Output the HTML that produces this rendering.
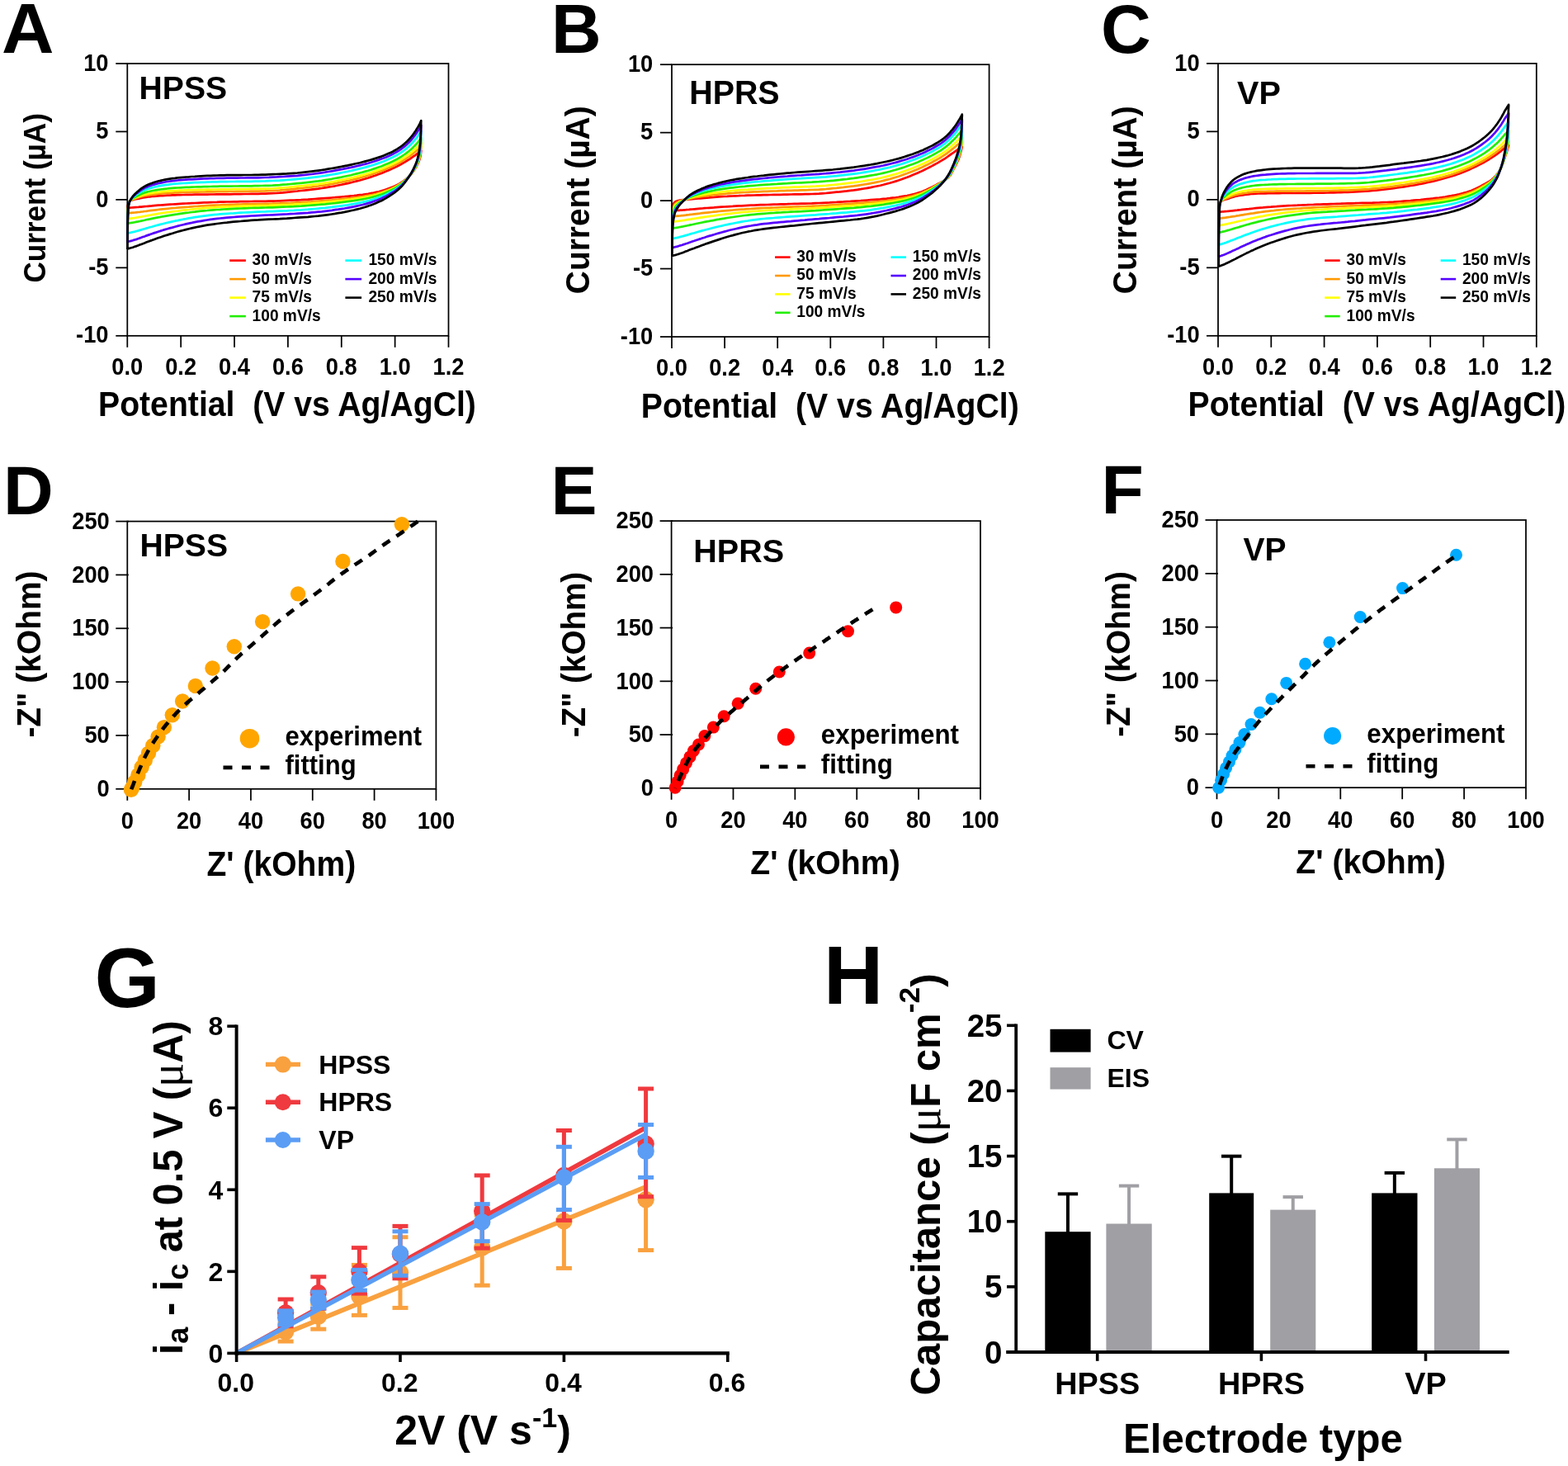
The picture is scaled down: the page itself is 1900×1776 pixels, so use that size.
<!DOCTYPE html>
<html lang="en">
<head>
<meta charset="utf-8">
<title>Electrochemical characterisation of HPSS, HPRS and VP electrodes</title>
<style>html,body{margin:0;padding:0;background:#fff}body{width:1900px;height:1776px;overflow:hidden}svg{display:block}text{white-space:pre}</style>
</head>
<body>
<svg width="1900" height="1776" viewBox="0 0 1900 1776" font-family='"Liberation Sans", sans-serif' font-weight="bold" fill="#000" aria-labelledby="fig-title fig-desc">
<title id="fig-title">Electrochemical characterisation of HPSS, HPRS and VP electrodes</title>
<desc id="fig-desc">Panels A to C: cyclic voltammograms at scan rates from 30 to 250 mV/s. Panels D to F: Nyquist plots with experiment and fitting. Panel G: current difference at 0.5 V versus scan rate. Panel H: capacitance by electrode type from CV and EIS.</desc>
<rect width="1900" height="1776" fill="#fff"/>
<g id="panel-A">
<path d="M154.4 251.8 L154.4 251.6 L154.5 251.3 L154.6 250.2 L154.9 248.5 L155.3 247.1 L155.7 245.8 L156.3 244.7 L157.0 243.9 L157.8 243.4 L158.7 242.9 L159.7 242.4 L160.8 242.1 L162.0 241.7 L163.3 241.5 L164.7 241.2 L166.2 241.0 L167.8 240.6 L169.4 240.3 L171.2 239.9 L173.1 239.5 L175.1 239.1 L177.2 238.8 L179.3 238.5 L181.6 238.3 L184.0 238.0 L186.4 237.8 L188.9 237.6 L191.5 237.4 L194.2 237.2 L197.0 237.1 L199.8 236.9 L202.8 236.7 L205.8 236.6 L208.9 236.4 L212.0 236.3 L215.2 236.2 L218.5 236.1 L221.9 236.0 L225.3 235.9 L228.8 235.8 L232.4 235.8 L236.0 235.7 L239.7 235.7 L243.4 235.6 L247.2 235.6 L251.0 235.6 L254.9 235.5 L258.8 235.5 L262.8 235.4 L266.8 235.4 L270.8 235.4 L274.9 235.3 L279.0 235.3 L283.2 235.2 L287.3 235.2 L291.6 235.1 L295.8 235.0 L300.0 235.0 L304.3 234.9 L308.6 234.9 L312.9 234.8 L317.2 234.7 L321.5 234.6 L325.9 234.4 L330.2 234.2 L334.5 234.0 L338.9 233.7 L343.2 233.3 L347.5 232.8 L351.8 232.4 L356.1 231.9 L360.4 231.5 L364.7 231.0 L368.9 230.6 L373.2 230.1 L377.4 229.6 L381.5 229.1 L385.7 228.6 L389.8 228.0 L393.9 227.3 L397.9 226.7 L402.0 226.0 L405.9 225.3 L409.8 224.5 L413.7 223.7 L417.5 222.9 L421.3 222.1 L425.1 221.2 L428.7 220.3 L432.3 219.4 L435.9 218.5 L439.4 217.5 L442.8 216.5 L446.2 215.5 L449.5 214.4 L452.7 213.3 L455.9 212.2 L458.9 211.1 L462.0 210.0 L464.9 208.8 L467.7 207.6 L470.5 206.4 L473.2 205.2 L475.8 204.0 L478.3 202.9 L480.8 201.7 L483.1 200.5 L485.4 199.3 L487.5 198.0 L489.6 196.8 L491.6 195.7 L493.5 194.5 L495.3 193.4 L497.0 192.3 L498.6 191.2 L500.1 190.2 L501.5 189.2 L502.8 188.3 L504.0 187.4 L505.0 186.6 L506.0 185.9 L506.9 185.2 L507.7 184.6 L508.4 184.1 L509.0 183.7 L509.5 183.3 L509.8 183.0 L510.1 182.8 L510.2 182.7 L510.3 182.6 L510.3 182.6 L510.2 183.1 L510.1 184.5 L509.8 186.7 L509.5 188.9 L509.0 191.0 L508.4 193.1 L507.7 195.1 L506.9 196.9 L506.0 198.8 L505.0 200.8 L504.0 202.8 L502.8 204.8 L501.5 206.7 L500.1 208.6 L498.6 210.5 L497.0 212.3 L495.3 214.0 L493.5 215.7 L491.6 217.3 L489.6 218.9 L487.5 220.3 L485.4 221.7 L483.1 223.1 L480.8 224.3 L478.3 225.5 L475.8 226.6 L473.2 227.6 L470.5 228.6 L467.7 229.6 L464.9 230.5 L462.0 231.4 L458.9 232.2 L455.9 232.9 L452.7 233.6 L449.5 234.2 L446.2 234.8 L442.8 235.3 L439.4 235.8 L435.9 236.2 L432.3 236.7 L428.7 237.1 L425.1 237.4 L421.3 237.8 L417.5 238.2 L413.7 238.5 L409.8 238.8 L405.9 239.2 L402.0 239.5 L397.9 239.8 L393.9 240.1 L389.8 240.4 L385.7 240.7 L381.5 241.0 L377.4 241.3 L373.2 241.6 L368.9 241.8 L364.7 242.1 L360.4 242.3 L356.1 242.5 L351.8 242.7 L347.5 242.9 L343.2 243.1 L338.9 243.3 L334.5 243.5 L330.2 243.6 L325.9 243.7 L321.5 243.8 L317.2 243.8 L312.9 243.9 L308.6 243.9 L304.3 244.0 L300.0 244.1 L295.8 244.1 L291.6 244.2 L287.3 244.3 L283.2 244.4 L279.0 244.5 L274.9 244.5 L270.8 244.6 L266.8 244.7 L262.8 244.9 L258.8 245.0 L254.9 245.1 L251.0 245.3 L247.2 245.4 L243.4 245.6 L239.7 245.8 L236.0 246.0 L232.4 246.1 L228.8 246.3 L225.3 246.5 L221.9 246.7 L218.5 246.9 L215.2 247.1 L212.0 247.3 L208.9 247.5 L205.8 247.7 L202.8 247.9 L199.8 248.1 L197.0 248.3 L194.2 248.5 L191.5 248.7 L188.9 248.9 L186.4 249.1 L184.0 249.4 L181.6 249.6 L179.3 249.8 L177.2 250.0 L175.1 250.2 L173.1 250.4 L171.2 250.6 L169.4 250.7 L167.8 250.9 L166.2 251.0 L164.7 251.1 L163.3 251.2 L162.0 251.3 L160.8 251.4 L159.7 251.5 L158.7 251.5 L157.8 251.6 L157.0 251.6 L156.3 251.7 L155.7 251.7 L155.3 251.7 L154.9 251.7 L154.6 251.8 L154.5 251.8 L154.4 251.8 L154.4 251.8" fill="none" stroke="#ff0000" stroke-width="2.7" stroke-linejoin="round"/>
<path d="M154.4 258.7 L154.4 258.7 L154.5 257.6 L154.6 254.4 L154.9 250.9 L155.3 248.3 L155.7 246.5 L156.3 245.0 L157.0 244.0 L157.8 243.3 L158.7 242.6 L159.7 242.0 L160.8 241.5 L162.0 241.0 L163.3 240.6 L164.7 240.2 L166.2 239.8 L167.8 239.3 L169.4 238.8 L171.2 238.3 L173.1 237.7 L175.1 237.2 L177.2 236.8 L179.3 236.4 L181.6 236.1 L184.0 235.8 L186.4 235.5 L188.9 235.2 L191.5 234.9 L194.2 234.7 L197.0 234.4 L199.8 234.2 L202.8 234.0 L205.8 233.8 L208.9 233.6 L212.0 233.4 L215.2 233.3 L218.5 233.1 L221.9 233.0 L225.3 232.9 L228.8 232.8 L232.4 232.7 L236.0 232.6 L239.7 232.6 L243.4 232.5 L247.2 232.5 L251.0 232.4 L254.9 232.3 L258.8 232.3 L262.8 232.2 L266.8 232.2 L270.8 232.1 L274.9 232.1 L279.0 232.0 L283.2 232.0 L287.3 231.9 L291.6 231.9 L295.8 231.8 L300.0 231.8 L304.3 231.7 L308.6 231.6 L312.9 231.6 L317.2 231.5 L321.5 231.4 L325.9 231.2 L330.2 231.0 L334.5 230.8 L338.9 230.5 L343.2 230.1 L347.5 229.7 L351.8 229.3 L356.1 228.8 L360.4 228.4 L364.7 228.0 L368.9 227.5 L373.2 227.1 L377.4 226.6 L381.5 226.0 L385.7 225.5 L389.8 224.9 L393.9 224.3 L397.9 223.6 L402.0 222.9 L405.9 222.2 L409.8 221.4 L413.7 220.7 L417.5 219.9 L421.3 219.1 L425.1 218.2 L428.7 217.3 L432.3 216.4 L435.9 215.5 L439.4 214.5 L442.8 213.6 L446.2 212.5 L449.5 211.5 L452.7 210.4 L455.9 209.3 L458.9 208.2 L462.0 207.1 L464.9 205.9 L467.7 204.8 L470.5 203.6 L473.2 202.4 L475.8 201.2 L478.3 200.0 L480.8 198.8 L483.1 197.5 L485.4 196.3 L487.5 195.0 L489.6 193.7 L491.6 192.5 L493.5 191.2 L495.3 190.0 L497.0 188.8 L498.6 187.6 L500.1 186.4 L501.5 185.3 L502.8 184.3 L504.0 183.3 L505.0 182.4 L506.0 181.5 L506.9 180.7 L507.7 180.0 L508.4 179.4 L509.0 178.8 L509.5 178.4 L509.8 178.0 L510.1 177.7 L510.2 177.6 L510.3 177.5 L510.3 177.5 L510.2 178.2 L510.1 180.1 L509.8 183.2 L509.5 186.1 L509.0 188.6 L508.4 191.2 L507.7 193.5 L506.9 195.7 L506.0 197.8 L505.0 200.0 L504.0 202.1 L502.8 204.2 L501.5 206.3 L500.1 208.3 L498.6 210.3 L497.0 212.2 L495.3 214.1 L493.5 215.9 L491.6 217.7 L489.6 219.4 L487.5 221.0 L485.4 222.5 L483.1 223.9 L480.8 225.3 L478.3 226.6 L475.8 227.8 L473.2 228.9 L470.5 230.0 L467.7 231.1 L464.9 232.1 L462.0 233.0 L458.9 233.9 L455.9 234.8 L452.7 235.5 L449.5 236.2 L446.2 236.8 L442.8 237.4 L439.4 238.0 L435.9 238.5 L432.3 239.0 L428.7 239.5 L425.1 240.0 L421.3 240.4 L417.5 240.8 L413.7 241.2 L409.8 241.6 L405.9 241.9 L402.0 242.3 L397.9 242.6 L393.9 243.0 L389.8 243.3 L385.7 243.6 L381.5 243.9 L377.4 244.3 L373.2 244.5 L368.9 244.8 L364.7 245.1 L360.4 245.3 L356.1 245.5 L351.8 245.8 L347.5 246.0 L343.2 246.2 L338.9 246.4 L334.5 246.5 L330.2 246.7 L325.9 246.8 L321.5 246.9 L317.2 247.0 L312.9 247.0 L308.6 247.1 L304.3 247.2 L300.0 247.3 L295.8 247.4 L291.6 247.5 L287.3 247.6 L283.2 247.8 L279.0 247.9 L274.9 248.1 L270.8 248.2 L266.8 248.4 L262.8 248.5 L258.8 248.7 L254.9 248.9 L251.0 249.1 L247.2 249.3 L243.4 249.5 L239.7 249.8 L236.0 250.0 L232.4 250.3 L228.8 250.6 L225.3 250.8 L221.9 251.1 L218.5 251.4 L215.2 251.7 L212.0 252.0 L208.9 252.2 L205.8 252.5 L202.8 252.8 L199.8 253.1 L197.0 253.4 L194.2 253.7 L191.5 254.0 L188.9 254.3 L186.4 254.6 L184.0 254.9 L181.6 255.2 L179.3 255.5 L177.2 255.8 L175.1 256.0 L173.1 256.3 L171.2 256.5 L169.4 256.8 L167.8 257.0 L166.2 257.1 L164.7 257.3 L163.3 257.5 L162.0 257.6 L160.8 257.7 L159.7 257.8 L158.7 257.9 L157.8 258.0 L157.0 258.0 L156.3 258.1 L155.7 258.1 L155.3 258.2 L154.9 258.2 L154.6 258.2 L154.5 258.2 L154.4 258.2 L154.4 258.7" fill="none" stroke="#ff9900" stroke-width="2.7" stroke-linejoin="round"/>
<path d="M154.4 265.2 L154.4 264.7 L154.5 263.0 L154.6 258.1 L154.9 252.9 L155.3 249.4 L155.7 247.0 L156.3 245.3 L157.0 244.1 L157.8 243.2 L158.7 242.5 L159.7 241.7 L160.8 241.0 L162.0 240.4 L163.3 239.9 L164.7 239.3 L166.2 238.8 L167.8 238.2 L169.4 237.5 L171.2 236.9 L173.1 236.3 L175.1 235.7 L177.2 235.1 L179.3 234.7 L181.6 234.2 L184.0 233.8 L186.4 233.5 L188.9 233.1 L191.5 232.8 L194.2 232.5 L197.0 232.2 L199.8 231.9 L202.8 231.6 L205.8 231.4 L208.9 231.2 L212.0 231.0 L215.2 230.8 L218.5 230.6 L221.9 230.5 L225.3 230.3 L228.8 230.2 L232.4 230.1 L236.0 230.0 L239.7 229.9 L243.4 229.8 L247.2 229.8 L251.0 229.7 L254.9 229.6 L258.8 229.5 L262.8 229.5 L266.8 229.4 L270.8 229.4 L274.9 229.3 L279.0 229.3 L283.2 229.2 L287.3 229.2 L291.6 229.1 L295.8 229.1 L300.0 229.0 L304.3 228.9 L308.6 228.9 L312.9 228.8 L317.2 228.7 L321.5 228.6 L325.9 228.5 L330.2 228.3 L334.5 228.0 L338.9 227.7 L343.2 227.4 L347.5 227.0 L351.8 226.6 L356.1 226.2 L360.4 225.7 L364.7 225.3 L368.9 224.9 L373.2 224.4 L377.4 223.9 L381.5 223.4 L385.7 222.9 L389.8 222.3 L393.9 221.6 L397.9 221.0 L402.0 220.3 L405.9 219.6 L409.8 218.8 L413.7 218.0 L417.5 217.3 L421.3 216.4 L425.1 215.6 L428.7 214.7 L432.3 213.9 L435.9 212.9 L439.4 212.0 L442.8 211.0 L446.2 210.0 L449.5 209.0 L452.7 208.0 L455.9 206.9 L458.9 205.8 L462.0 204.7 L464.9 203.5 L467.7 202.3 L470.5 201.1 L473.2 199.9 L475.8 198.7 L478.3 197.5 L480.8 196.3 L483.1 195.0 L485.4 193.7 L487.5 192.4 L489.6 191.0 L491.6 189.7 L493.5 188.4 L495.3 187.1 L497.0 185.8 L498.6 184.5 L500.1 183.2 L501.5 182.0 L502.8 180.9 L504.0 179.8 L505.0 178.7 L506.0 177.8 L506.9 176.9 L507.7 176.1 L508.4 175.3 L509.0 174.7 L509.5 174.1 L509.8 173.7 L510.1 173.4 L510.2 173.2 L510.3 173.2 L510.3 173.2 L510.2 174.8 L510.1 177.1 L509.8 180.7 L509.5 184.1 L509.0 187.0 L508.4 189.9 L507.7 192.5 L506.9 194.9 L506.0 197.2 L505.0 199.5 L504.0 201.7 L502.8 203.8 L501.5 206.0 L500.1 208.1 L498.6 210.2 L497.0 212.2 L495.3 214.1 L493.5 216.1 L491.6 217.9 L489.6 219.7 L487.5 221.4 L485.4 223.0 L483.1 224.5 L480.8 225.9 L478.3 227.3 L475.8 228.5 L473.2 229.7 L470.5 230.9 L467.7 232.0 L464.9 233.1 L462.0 234.2 L458.9 235.1 L455.9 236.0 L452.7 236.8 L449.5 237.5 L446.2 238.2 L442.8 238.9 L439.4 239.5 L435.9 240.1 L432.3 240.6 L428.7 241.2 L425.1 241.7 L421.3 242.1 L417.5 242.6 L413.7 243.0 L409.8 243.4 L405.9 243.8 L402.0 244.2 L397.9 244.5 L393.9 244.9 L389.8 245.3 L385.7 245.6 L381.5 245.9 L377.4 246.3 L373.2 246.6 L368.9 246.8 L364.7 247.1 L360.4 247.3 L356.1 247.6 L351.8 247.8 L347.5 248.0 L343.2 248.2 L338.9 248.4 L334.5 248.6 L330.2 248.7 L325.9 248.9 L321.5 249.0 L317.2 249.1 L312.9 249.2 L308.6 249.3 L304.3 249.4 L300.0 249.5 L295.8 249.6 L291.6 249.8 L287.3 249.9 L283.2 250.1 L279.0 250.3 L274.9 250.4 L270.8 250.6 L266.8 250.8 L262.8 251.0 L258.8 251.3 L254.9 251.5 L251.0 251.8 L247.2 252.2 L243.4 252.5 L239.7 252.8 L236.0 253.2 L232.4 253.6 L228.8 254.0 L225.3 254.3 L221.9 254.7 L218.5 255.1 L215.2 255.6 L212.0 256.0 L208.9 256.4 L205.8 256.8 L202.8 257.2 L199.8 257.7 L197.0 258.1 L194.2 258.5 L191.5 258.9 L188.9 259.4 L186.4 259.8 L184.0 260.2 L181.6 260.7 L179.3 261.1 L177.2 261.5 L175.1 261.9 L173.1 262.2 L171.2 262.6 L169.4 262.9 L167.8 263.2 L166.2 263.5 L164.7 263.7 L163.3 264.0 L162.0 264.2 L160.8 264.3 L159.7 264.5 L158.7 264.6 L157.8 264.8 L157.0 264.9 L156.3 264.9 L155.7 265.0 L155.3 265.1 L154.9 265.1 L154.6 265.1 L154.5 265.2 L154.4 265.2 L154.4 265.2" fill="none" stroke="#ffff00" stroke-width="2.7" stroke-linejoin="round"/>
<path d="M154.4 272.7 L154.4 272.7 L154.5 270.3 L154.6 262.9 L154.9 255.6 L155.3 250.9 L155.7 247.8 L156.3 245.6 L157.0 244.2 L157.8 243.1 L158.7 242.2 L159.7 241.3 L160.8 240.4 L162.0 239.6 L163.3 238.9 L164.7 238.2 L166.2 237.4 L167.8 236.7 L169.4 235.9 L171.2 235.1 L173.1 234.3 L175.1 233.6 L177.2 232.9 L179.3 232.3 L181.6 231.8 L184.0 231.3 L186.4 230.8 L188.9 230.3 L191.5 229.9 L194.2 229.5 L197.0 229.2 L199.8 228.8 L202.8 228.5 L205.8 228.2 L208.9 227.9 L212.0 227.7 L215.2 227.5 L218.5 227.3 L221.9 227.1 L225.3 226.9 L228.8 226.8 L232.4 226.6 L236.0 226.5 L239.7 226.4 L243.4 226.3 L247.2 226.2 L251.0 226.1 L254.9 226.0 L258.8 225.9 L262.8 225.8 L266.8 225.7 L270.8 225.7 L274.9 225.6 L279.0 225.6 L283.2 225.5 L287.3 225.5 L291.6 225.4 L295.8 225.4 L300.0 225.3 L304.3 225.3 L308.6 225.2 L312.9 225.1 L317.2 225.0 L321.5 224.9 L325.9 224.8 L330.2 224.6 L334.5 224.3 L338.9 224.1 L343.2 223.7 L347.5 223.4 L351.8 223.0 L356.1 222.6 L360.4 222.2 L364.7 221.8 L368.9 221.4 L373.2 220.9 L377.4 220.4 L381.5 219.9 L385.7 219.4 L389.8 218.8 L393.9 218.1 L397.9 217.5 L402.0 216.8 L405.9 216.0 L409.8 215.3 L413.7 214.6 L417.5 213.8 L421.3 213.0 L425.1 212.2 L428.7 211.3 L432.3 210.4 L435.9 209.5 L439.4 208.6 L442.8 207.6 L446.2 206.7 L449.5 205.7 L452.7 204.6 L455.9 203.6 L458.9 202.5 L462.0 201.4 L464.9 200.2 L467.7 199.1 L470.5 197.9 L473.2 196.7 L475.8 195.5 L478.3 194.2 L480.8 193.0 L483.1 191.6 L485.4 190.3 L487.5 188.9 L489.6 187.5 L491.6 186.1 L493.5 184.6 L495.3 183.2 L497.0 181.8 L498.6 180.4 L500.1 179.0 L501.5 177.6 L502.8 176.3 L504.0 175.0 L505.0 173.9 L506.0 172.8 L506.9 171.7 L507.7 170.8 L508.4 169.9 L509.0 169.1 L509.5 168.5 L509.8 168.0 L510.1 167.6 L510.2 167.4 L510.3 167.3 L510.3 167.3 L510.2 170.8 L510.1 173.5 L509.8 177.8 L509.5 181.7 L509.0 185.1 L508.4 188.3 L507.7 191.3 L506.9 193.9 L506.0 196.4 L505.0 198.8 L504.0 201.1 L502.8 203.4 L501.5 205.6 L500.1 207.9 L498.6 210.0 L497.0 212.1 L495.3 214.2 L493.5 216.2 L491.6 218.2 L489.6 220.1 L487.5 221.9 L485.4 223.6 L483.1 225.2 L480.8 226.7 L478.3 228.2 L475.8 229.5 L473.2 230.8 L470.5 232.0 L467.7 233.3 L464.9 234.4 L462.0 235.5 L458.9 236.5 L455.9 237.5 L452.7 238.4 L449.5 239.2 L446.2 240.0 L442.8 240.7 L439.4 241.4 L435.9 242.0 L432.3 242.6 L428.7 243.2 L425.1 243.7 L421.3 244.2 L417.5 244.7 L413.7 245.2 L409.8 245.6 L405.9 246.1 L402.0 246.5 L397.9 246.9 L393.9 247.3 L389.8 247.6 L385.7 248.0 L381.5 248.4 L377.4 248.7 L373.2 249.0 L368.9 249.3 L364.7 249.6 L360.4 249.8 L356.1 250.1 L351.8 250.3 L347.5 250.5 L343.2 250.7 L338.9 250.9 L334.5 251.1 L330.2 251.3 L325.9 251.4 L321.5 251.5 L317.2 251.6 L312.9 251.8 L308.6 251.9 L304.3 252.0 L300.0 252.2 L295.8 252.3 L291.6 252.5 L287.3 252.7 L283.2 252.9 L279.0 253.1 L274.9 253.3 L270.8 253.5 L266.8 253.8 L262.8 254.0 L258.8 254.3 L254.9 254.6 L251.0 255.0 L247.2 255.3 L243.4 255.7 L239.7 256.1 L236.0 256.6 L232.4 257.0 L228.8 257.5 L225.3 257.9 L221.9 258.4 L218.5 258.9 L215.2 259.4 L212.0 259.8 L208.9 260.3 L205.8 260.8 L202.8 261.3 L199.8 261.8 L197.0 262.3 L194.2 262.9 L191.5 263.4 L188.9 263.9 L186.4 264.4 L184.0 264.9 L181.6 265.4 L179.3 265.8 L177.2 266.3 L175.1 266.8 L173.1 267.2 L171.2 267.6 L169.4 268.0 L167.8 268.3 L166.2 268.7 L164.7 268.9 L163.3 269.2 L162.0 269.5 L160.8 269.7 L159.7 269.8 L158.7 270.0 L157.8 270.1 L157.0 270.3 L156.3 270.4 L155.7 270.4 L155.3 270.5 L154.9 270.6 L154.6 270.6 L154.5 270.6 L154.4 270.6 L154.4 272.7" fill="none" stroke="#22ee00" stroke-width="2.7" stroke-linejoin="round"/>
<path d="M154.4 284.8 L154.4 284.8 L154.5 281.1 L154.6 270.2 L154.9 259.7 L155.3 253.1 L155.7 248.9 L156.3 246.2 L157.0 244.3 L157.8 243.0 L158.7 241.8 L159.7 240.6 L160.8 239.4 L162.0 238.4 L163.3 237.4 L164.7 236.4 L166.2 235.4 L167.8 234.4 L169.4 233.3 L171.2 232.3 L173.1 231.3 L175.1 230.4 L177.2 229.6 L179.3 228.8 L181.6 228.1 L184.0 227.4 L186.4 226.7 L188.9 226.2 L191.5 225.6 L194.2 225.1 L197.0 224.6 L199.8 224.2 L202.8 223.8 L205.8 223.4 L208.9 223.0 L212.0 222.7 L215.2 222.5 L218.5 222.2 L221.9 222.0 L225.3 221.8 L228.8 221.6 L232.4 221.4 L236.0 221.2 L239.7 221.1 L243.4 220.9 L247.2 220.8 L251.0 220.6 L254.9 220.5 L258.8 220.4 L262.8 220.3 L266.8 220.2 L270.8 220.1 L274.9 220.1 L279.0 220.0 L283.2 220.0 L287.3 219.9 L291.6 219.9 L295.8 219.9 L300.0 219.8 L304.3 219.8 L308.6 219.7 L312.9 219.6 L317.2 219.5 L321.5 219.4 L325.9 219.2 L330.2 219.0 L334.5 218.8 L338.9 218.6 L343.2 218.3 L347.5 218.0 L351.8 217.7 L356.1 217.3 L360.4 216.9 L364.7 216.5 L368.9 216.1 L373.2 215.7 L377.4 215.2 L381.5 214.7 L385.7 214.1 L389.8 213.5 L393.9 212.9 L397.9 212.2 L402.0 211.5 L405.9 210.8 L409.8 210.1 L413.7 209.3 L417.5 208.5 L421.3 207.8 L425.1 207.0 L428.7 206.1 L432.3 205.3 L435.9 204.4 L439.4 203.5 L442.8 202.6 L446.2 201.6 L449.5 200.7 L452.7 199.7 L455.9 198.6 L458.9 197.6 L462.0 196.5 L464.9 195.4 L467.7 194.2 L470.5 193.0 L473.2 191.8 L475.8 190.6 L478.3 189.3 L480.8 188.0 L483.1 186.6 L485.4 185.1 L487.5 183.7 L489.6 182.1 L491.6 180.6 L493.5 179.0 L495.3 177.4 L497.0 175.8 L498.6 174.2 L500.1 172.6 L501.5 171.0 L502.8 169.4 L504.0 168.0 L505.0 166.6 L506.0 165.2 L506.9 164.0 L507.7 162.9 L508.4 161.8 L509.0 160.8 L509.5 160.0 L509.8 159.4 L510.1 159.0 L510.2 158.7 L510.3 158.6 L510.3 158.6 L510.2 163.1 L510.1 166.6 L509.8 172.2 L509.5 177.2 L509.0 181.3 L508.4 185.3 L507.7 188.9 L506.9 192.0 L506.0 194.8 L505.0 197.6 L504.0 200.1 L502.8 202.5 L501.5 205.0 L500.1 207.4 L498.6 209.8 L497.0 212.0 L495.3 214.3 L493.5 216.5 L491.6 218.7 L489.6 220.9 L487.5 222.9 L485.4 224.8 L483.1 226.6 L480.8 228.2 L478.3 229.8 L475.8 231.3 L473.2 232.8 L470.5 234.2 L467.7 235.6 L464.9 236.9 L462.0 238.1 L458.9 239.3 L455.9 240.3 L452.7 241.4 L449.5 242.3 L446.2 243.2 L442.8 244.1 L439.4 244.9 L435.9 245.6 L432.3 246.3 L428.7 247.0 L425.1 247.6 L421.3 248.3 L417.5 248.8 L413.7 249.4 L409.8 249.9 L405.9 250.4 L402.0 250.9 L397.9 251.3 L393.9 251.8 L389.8 252.2 L385.7 252.6 L381.5 253.0 L377.4 253.3 L373.2 253.7 L368.9 254.0 L364.7 254.3 L360.4 254.5 L356.1 254.8 L351.8 255.0 L347.5 255.3 L343.2 255.5 L338.9 255.7 L334.5 255.9 L330.2 256.1 L325.9 256.2 L321.5 256.4 L317.2 256.5 L312.9 256.7 L308.6 256.9 L304.3 257.1 L300.0 257.3 L295.8 257.5 L291.6 257.7 L287.3 258.0 L283.2 258.3 L279.0 258.5 L274.9 258.8 L270.8 259.1 L266.8 259.4 L262.8 259.8 L258.8 260.2 L254.9 260.6 L251.0 261.1 L247.2 261.6 L243.4 262.1 L239.7 262.7 L236.0 263.2 L232.4 263.8 L228.8 264.4 L225.3 265.1 L221.9 265.7 L218.5 266.4 L215.2 267.1 L212.0 267.7 L208.9 268.4 L205.8 269.1 L202.8 269.8 L199.8 270.5 L197.0 271.2 L194.2 271.9 L191.5 272.6 L188.9 273.3 L186.4 274.0 L184.0 274.7 L181.6 275.3 L179.3 276.0 L177.2 276.6 L175.1 277.2 L173.1 277.8 L171.2 278.4 L169.4 278.9 L167.8 279.4 L166.2 279.8 L164.7 280.2 L163.3 280.6 L162.0 280.9 L160.8 281.2 L159.7 281.4 L158.7 281.7 L157.8 281.9 L157.0 282.0 L156.3 282.2 L155.7 282.3 L155.3 282.4 L154.9 282.4 L154.6 282.5 L154.5 282.5 L154.4 282.5 L154.4 284.8" fill="none" stroke="#00ffff" stroke-width="2.7" stroke-linejoin="round"/>
<path d="M154.4 294.4 L154.4 294.4 L154.5 289.8 L154.6 276.0 L154.9 262.9 L155.3 254.8 L155.7 249.8 L156.3 246.6 L157.0 244.5 L157.8 242.9 L158.7 241.5 L159.7 240.1 L160.8 238.7 L162.0 237.4 L163.3 236.2 L164.7 235.0 L166.2 233.8 L167.8 232.6 L169.4 231.4 L171.2 230.1 L173.1 229.0 L175.1 227.9 L177.2 226.9 L179.3 226.0 L181.6 225.1 L184.0 224.3 L186.4 223.6 L188.9 222.9 L191.5 222.2 L194.2 221.6 L197.0 221.1 L199.8 220.5 L202.8 220.0 L205.8 219.6 L208.9 219.2 L212.0 218.8 L215.2 218.5 L218.5 218.2 L221.9 218.0 L225.3 217.7 L228.8 217.5 L232.4 217.3 L236.0 217.1 L239.7 216.9 L243.4 216.7 L247.2 216.5 L251.0 216.3 L254.9 216.2 L258.8 216.1 L262.8 215.9 L266.8 215.8 L270.8 215.8 L274.9 215.7 L279.0 215.6 L283.2 215.6 L287.3 215.6 L291.6 215.5 L295.8 215.5 L300.0 215.4 L304.3 215.4 L308.6 215.3 L312.9 215.3 L317.2 215.1 L321.5 215.0 L325.9 214.9 L330.2 214.7 L334.5 214.5 L338.9 214.2 L343.2 214.0 L347.5 213.7 L351.8 213.4 L356.1 213.1 L360.4 212.8 L364.7 212.4 L368.9 212.0 L373.2 211.5 L377.4 211.0 L381.5 210.5 L385.7 209.9 L389.8 209.3 L393.9 208.7 L397.9 208.0 L402.0 207.3 L405.9 206.6 L409.8 205.9 L413.7 205.2 L417.5 204.4 L421.3 203.6 L425.1 202.9 L428.7 202.1 L432.3 201.2 L435.9 200.4 L439.4 199.5 L442.8 198.6 L446.2 197.7 L449.5 196.7 L452.7 195.7 L455.9 194.7 L458.9 193.7 L462.0 192.6 L464.9 191.5 L467.7 190.4 L470.5 189.2 L473.2 188.0 L475.8 186.7 L478.3 185.4 L480.8 184.0 L483.1 182.6 L485.4 181.1 L487.5 179.5 L489.6 177.9 L491.6 176.2 L493.5 174.5 L495.3 172.8 L497.0 171.0 L498.6 169.3 L500.1 167.5 L501.5 165.7 L502.8 164.0 L504.0 162.4 L505.0 160.8 L506.0 159.3 L506.9 157.9 L507.7 156.6 L508.4 155.4 L509.0 154.3 L509.5 153.4 L509.8 152.6 L510.1 152.1 L510.2 151.8 L510.3 151.7 L510.3 151.7 L510.2 156.2 L510.1 160.5 L509.8 167.3 L509.5 173.2 L509.0 178.0 L508.4 182.7 L507.7 186.8 L506.9 190.3 L506.0 193.5 L505.0 196.4 L504.0 199.2 L502.8 201.7 L501.5 204.4 L500.1 207.0 L498.6 209.5 L497.0 212.0 L495.3 214.4 L493.5 216.8 L491.6 219.2 L489.6 221.5 L487.5 223.8 L485.4 225.9 L483.1 227.8 L480.8 229.6 L478.3 231.3 L475.8 232.9 L473.2 234.5 L470.5 236.1 L467.7 237.6 L464.9 239.0 L462.0 240.4 L458.9 241.7 L455.9 242.9 L452.7 244.0 L449.5 245.1 L446.2 246.1 L442.8 247.1 L439.4 248.0 L435.9 248.8 L432.3 249.6 L428.7 250.4 L425.1 251.1 L421.3 251.8 L417.5 252.5 L413.7 253.1 L409.8 253.7 L405.9 254.2 L402.0 254.8 L397.9 255.3 L393.9 255.8 L389.8 256.3 L385.7 256.7 L381.5 257.1 L377.4 257.4 L373.2 257.8 L368.9 258.1 L364.7 258.4 L360.4 258.7 L356.1 259.0 L351.8 259.2 L347.5 259.5 L343.2 259.7 L338.9 259.9 L334.5 260.1 L330.2 260.3 L325.9 260.5 L321.5 260.7 L317.2 260.9 L312.9 261.1 L308.6 261.3 L304.3 261.5 L300.0 261.8 L295.8 262.1 L291.6 262.4 L287.3 262.7 L283.2 263.0 L279.0 263.3 L274.9 263.7 L270.8 264.1 L266.8 264.5 L262.8 264.9 L258.8 265.4 L254.9 265.9 L251.0 266.5 L247.2 267.1 L243.4 267.8 L239.7 268.4 L236.0 269.1 L232.4 269.9 L228.8 270.6 L225.3 271.4 L221.9 272.2 L218.5 273.0 L215.2 273.9 L212.0 274.7 L208.9 275.6 L205.8 276.4 L202.8 277.3 L199.8 278.1 L197.0 279.0 L194.2 279.9 L191.5 280.7 L188.9 281.6 L186.4 282.4 L184.0 283.2 L181.6 284.1 L179.3 284.9 L177.2 285.6 L175.1 286.4 L173.1 287.1 L171.2 287.8 L169.4 288.4 L167.8 289.0 L166.2 289.6 L164.7 290.1 L163.3 290.5 L162.0 290.9 L160.8 291.3 L159.7 291.6 L158.7 291.9 L157.8 292.1 L157.0 292.3 L156.3 292.5 L155.7 292.6 L155.3 292.7 L154.9 292.8 L154.6 292.9 L154.5 292.9 L154.4 292.9 L154.4 294.4" fill="none" stroke="#5500ff" stroke-width="2.7" stroke-linejoin="round"/>
<path d="M154.4 301.9 L154.4 301.9 L154.5 296.5 L154.6 280.5 L154.9 265.4 L155.3 256.2 L155.7 250.5 L156.3 246.9 L157.0 244.5 L157.8 242.8 L158.7 241.3 L159.7 239.7 L160.8 238.1 L162.0 236.6 L163.3 235.3 L164.7 233.9 L166.2 232.6 L167.8 231.2 L169.4 229.8 L171.2 228.4 L173.1 227.2 L175.1 225.9 L177.2 224.8 L179.3 223.8 L181.6 222.8 L184.0 221.9 L186.4 221.0 L188.9 220.3 L191.5 219.5 L194.2 218.9 L197.0 218.2 L199.8 217.6 L202.8 217.1 L205.8 216.6 L208.9 216.1 L212.0 215.8 L215.2 215.4 L218.5 215.1 L221.9 214.8 L225.3 214.5 L228.8 214.3 L232.4 214.0 L236.0 213.8 L239.7 213.5 L243.4 213.3 L247.2 213.1 L251.0 212.9 L254.9 212.8 L258.8 212.6 L262.8 212.5 L266.8 212.4 L270.8 212.3 L274.9 212.2 L279.0 212.2 L283.2 212.1 L287.3 212.1 L291.6 212.1 L295.8 212.0 L300.0 212.0 L304.3 212.0 L308.6 211.9 L312.9 211.8 L317.2 211.7 L321.5 211.6 L325.9 211.4 L330.2 211.2 L334.5 211.0 L338.9 210.8 L343.2 210.6 L347.5 210.4 L351.8 210.1 L356.1 209.8 L360.4 209.5 L364.7 209.1 L368.9 208.7 L373.2 208.2 L377.4 207.7 L381.5 207.2 L385.7 206.6 L389.8 206.0 L393.9 205.4 L397.9 204.7 L402.0 204.0 L405.9 203.3 L409.8 202.6 L413.7 201.9 L417.5 201.1 L421.3 200.4 L425.1 199.6 L428.7 198.8 L432.3 198.0 L435.9 197.2 L439.4 196.3 L442.8 195.4 L446.2 194.5 L449.5 193.6 L452.7 192.6 L455.9 191.6 L458.9 190.6 L462.0 189.6 L464.9 188.5 L467.7 187.3 L470.5 186.1 L473.2 184.9 L475.8 183.7 L478.3 182.3 L480.8 180.9 L483.1 179.4 L485.4 177.9 L487.5 176.3 L489.6 174.6 L491.6 172.8 L493.5 171.0 L495.3 169.1 L497.0 167.3 L498.6 165.4 L500.1 163.5 L501.5 161.6 L502.8 159.7 L504.0 157.9 L505.0 156.2 L506.0 154.6 L506.9 153.1 L507.7 151.6 L508.4 150.3 L509.0 149.1 L509.5 148.1 L509.8 147.3 L510.1 146.7 L510.2 146.3 L510.3 146.2 L510.3 146.2 L510.2 148.0 L510.1 153.2 L509.8 161.3 L509.5 168.3 L509.0 174.0 L508.4 179.5 L507.7 184.2 L506.9 188.2 L506.0 191.8 L505.0 195.1 L504.0 198.1 L502.8 200.8 L501.5 203.6 L500.1 206.5 L498.6 209.2 L497.0 211.9 L495.3 214.5 L493.5 217.1 L491.6 219.8 L489.6 222.4 L487.5 224.8 L485.4 227.1 L483.1 229.2 L480.8 231.2 L478.3 233.1 L475.8 234.9 L473.2 236.6 L470.5 238.4 L467.7 240.1 L464.9 241.7 L462.0 243.2 L458.9 244.6 L455.9 245.9 L452.7 247.2 L449.5 248.4 L446.2 249.6 L442.8 250.7 L439.4 251.7 L435.9 252.7 L432.3 253.6 L428.7 254.5 L425.1 255.3 L421.3 256.1 L417.5 256.9 L413.7 257.6 L409.8 258.2 L405.9 258.9 L402.0 259.5 L397.9 260.1 L393.9 260.6 L389.8 261.1 L385.7 261.6 L381.5 262.0 L377.4 262.4 L373.2 262.8 L368.9 263.1 L364.7 263.4 L360.4 263.7 L356.1 264.0 L351.8 264.3 L347.5 264.6 L343.2 264.8 L338.9 265.1 L334.5 265.3 L330.2 265.5 L325.9 265.7 L321.5 265.9 L317.2 266.1 L312.9 266.4 L308.6 266.6 L304.3 266.9 L300.0 267.3 L295.8 267.6 L291.6 268.0 L287.3 268.3 L283.2 268.7 L279.0 269.1 L274.9 269.6 L270.8 270.0 L266.8 270.5 L262.8 271.0 L258.8 271.6 L254.9 272.1 L251.0 272.7 L247.2 273.4 L243.4 274.1 L239.7 274.8 L236.0 275.6 L232.4 276.4 L228.8 277.2 L225.3 278.1 L221.9 279.0 L218.5 279.9 L215.2 280.8 L212.0 281.7 L208.9 282.7 L205.8 283.6 L202.8 284.6 L199.8 285.5 L197.0 286.4 L194.2 287.4 L191.5 288.3 L188.9 289.2 L186.4 290.2 L184.0 291.1 L181.6 291.9 L179.3 292.8 L177.2 293.6 L175.1 294.5 L173.1 295.2 L171.2 295.9 L169.4 296.6 L167.8 297.3 L166.2 297.8 L164.7 298.4 L163.3 298.8 L162.0 299.3 L160.8 299.7 L159.7 300.0 L158.7 300.3 L157.8 300.5 L157.0 300.7 L156.3 300.9 L155.7 301.1 L155.3 301.2 L154.9 301.3 L154.6 301.3 L154.5 301.4 L154.4 301.4 L154.4 301.9" fill="none" stroke="#000000" stroke-width="2.7" stroke-linejoin="round"/>
<rect x="154.30" y="77.00" width="389.20" height="329.80" fill="none" stroke="#000" stroke-width="1.75"/>
<line x1="140.30" y1="77.00" x2="154.30" y2="77.00" stroke="#000" stroke-width="1.75"/>
<text transform="translate(131.50 85.60) scale(0.935 1)" font-size="29.2" text-anchor="end">10</text>
<line x1="140.30" y1="159.45" x2="154.30" y2="159.45" stroke="#000" stroke-width="1.75"/>
<text transform="translate(131.50 168.05) scale(0.935 1)" font-size="29.2" text-anchor="end">5</text>
<line x1="140.30" y1="241.90" x2="154.30" y2="241.90" stroke="#000" stroke-width="1.75"/>
<text transform="translate(131.50 250.50) scale(0.935 1)" font-size="29.2" text-anchor="end">0</text>
<line x1="140.30" y1="324.35" x2="154.30" y2="324.35" stroke="#000" stroke-width="1.75"/>
<text transform="translate(131.50 332.95) scale(0.935 1)" font-size="29.2" text-anchor="end">-5</text>
<line x1="140.30" y1="406.80" x2="154.30" y2="406.80" stroke="#000" stroke-width="1.75"/>
<text transform="translate(131.50 415.40) scale(0.935 1)" font-size="29.2" text-anchor="end">-10</text>
<line x1="154.30" y1="406.80" x2="154.30" y2="420.80" stroke="#000" stroke-width="1.75"/>
<text transform="translate(154.30 453.90) scale(0.935 1)" font-size="29.2" text-anchor="middle">0.0</text>
<line x1="219.17" y1="406.80" x2="219.17" y2="420.80" stroke="#000" stroke-width="1.75"/>
<text transform="translate(219.17 453.90) scale(0.935 1)" font-size="29.2" text-anchor="middle">0.2</text>
<line x1="284.03" y1="406.80" x2="284.03" y2="420.80" stroke="#000" stroke-width="1.75"/>
<text transform="translate(284.03 453.90) scale(0.935 1)" font-size="29.2" text-anchor="middle">0.4</text>
<line x1="348.90" y1="406.80" x2="348.90" y2="420.80" stroke="#000" stroke-width="1.75"/>
<text transform="translate(348.90 453.90) scale(0.935 1)" font-size="29.2" text-anchor="middle">0.6</text>
<line x1="413.77" y1="406.80" x2="413.77" y2="420.80" stroke="#000" stroke-width="1.75"/>
<text transform="translate(413.77 453.90) scale(0.935 1)" font-size="29.2" text-anchor="middle">0.8</text>
<line x1="478.63" y1="406.80" x2="478.63" y2="420.80" stroke="#000" stroke-width="1.75"/>
<text transform="translate(478.63 453.90) scale(0.935 1)" font-size="29.2" text-anchor="middle">1.0</text>
<line x1="543.50" y1="406.80" x2="543.50" y2="420.80" stroke="#000" stroke-width="1.75"/>
<text transform="translate(543.50 453.90) scale(0.935 1)" font-size="29.2" text-anchor="middle">1.2</text>
<text transform="translate(168.60 119.50) scale(0.99 1)" font-size="39.5" text-anchor="start">HPSS</text>
<text transform="translate(2.00 64.40) scale(1.04 1)" font-size="84.5" text-anchor="start">A</text>
<text transform="translate(54.80 239.90) rotate(-90) scale(0.975 1)" font-size="36" text-anchor="middle">Current (µA)</text>
<text transform="translate(119.00 504.00) scale(0.94 1)" font-size="41.7" text-anchor="start">Potential  (V vs Ag/AgCl)</text>
<line x1="278.20" y1="315.60" x2="297.90" y2="315.60" stroke="#ff0000" stroke-width="2.6"/>
<text transform="translate(305.60 321.00) scale(0.935 1)" font-size="20.5" text-anchor="start">30 mV/s</text>
<line x1="278.20" y1="338.10" x2="297.90" y2="338.10" stroke="#ff9900" stroke-width="2.6"/>
<text transform="translate(305.60 343.50) scale(0.935 1)" font-size="20.5" text-anchor="start">50 mV/s</text>
<line x1="278.20" y1="360.60" x2="297.90" y2="360.60" stroke="#ffff00" stroke-width="2.6"/>
<text transform="translate(305.60 366.00) scale(0.935 1)" font-size="20.5" text-anchor="start">75 mV/s</text>
<line x1="278.20" y1="383.10" x2="297.90" y2="383.10" stroke="#22ee00" stroke-width="2.6"/>
<text transform="translate(305.60 388.50) scale(0.935 1)" font-size="20.5" text-anchor="start">100 mV/s</text>
<line x1="418.40" y1="315.60" x2="438.10" y2="315.60" stroke="#00ffff" stroke-width="2.6"/>
<text transform="translate(446.40 321.00) scale(0.935 1)" font-size="20.5" text-anchor="start">150 mV/s</text>
<line x1="418.40" y1="338.10" x2="438.10" y2="338.10" stroke="#5500ff" stroke-width="2.6"/>
<text transform="translate(446.40 343.50) scale(0.935 1)" font-size="20.5" text-anchor="start">200 mV/s</text>
<line x1="418.40" y1="360.60" x2="438.10" y2="360.60" stroke="#000000" stroke-width="2.6"/>
<text transform="translate(446.40 366.00) scale(0.935 1)" font-size="20.5" text-anchor="start">250 mV/s</text>
</g>
<g id="panel-B">
<path d="M814.4 255.3 L814.4 250.6 L814.5 250.4 L814.6 249.9 L814.9 249.2 L815.2 248.2 L815.7 247.3 L816.3 246.5 L817.0 245.7 L817.7 244.9 L818.6 244.3 L819.6 243.8 L820.7 243.4 L821.9 243.0 L823.1 242.7 L824.5 242.5 L826.0 242.3 L827.6 242.1 L829.3 242.0 L831.0 241.8 L832.9 241.7 L834.8 241.5 L836.9 241.3 L839.0 241.1 L841.3 240.9 L843.6 240.7 L846.0 240.5 L848.5 240.3 L851.0 240.1 L853.7 239.9 L856.4 239.6 L859.3 239.4 L862.2 239.1 L865.1 238.9 L868.2 238.6 L871.3 238.4 L874.5 238.2 L877.7 238.0 L881.0 237.9 L884.4 237.7 L887.9 237.5 L891.4 237.3 L895.0 237.2 L898.6 237.0 L902.3 236.9 L906.0 236.7 L909.8 236.6 L913.6 236.5 L917.5 236.4 L921.4 236.3 L925.4 236.2 L929.3 236.1 L933.4 236.0 L937.4 235.9 L941.5 235.9 L945.7 235.8 L949.8 235.7 L954.0 235.6 L958.2 235.5 L962.4 235.4 L966.6 235.3 L970.9 235.3 L975.2 235.2 L979.4 235.1 L983.7 235.0 L988.0 234.8 L992.3 234.6 L996.5 234.3 L1000.8 234.0 L1005.1 233.6 L1009.3 233.2 L1013.6 232.7 L1017.8 232.3 L1022.0 231.8 L1026.2 231.4 L1030.4 230.9 L1034.6 230.4 L1038.7 229.8 L1042.8 229.2 L1046.8 228.5 L1050.9 227.8 L1054.9 227.1 L1058.8 226.3 L1062.7 225.5 L1066.6 224.7 L1070.4 223.8 L1074.2 222.8 L1078.0 221.8 L1081.6 220.7 L1085.3 219.6 L1088.8 218.5 L1092.3 217.3 L1095.8 216.0 L1099.2 214.8 L1102.5 213.5 L1105.8 212.1 L1108.9 210.8 L1112.1 209.4 L1115.1 208.1 L1118.1 206.7 L1121.0 205.3 L1123.8 203.9 L1126.5 202.5 L1129.2 201.1 L1131.7 199.7 L1134.2 198.4 L1136.6 197.1 L1139.0 195.7 L1141.2 194.4 L1143.3 193.1 L1145.4 191.8 L1147.3 190.5 L1149.2 189.2 L1151.0 187.9 L1152.6 186.7 L1154.2 185.6 L1155.7 184.6 L1157.1 183.6 L1158.4 182.7 L1159.5 181.8 L1160.6 181.1 L1161.6 180.4 L1162.5 179.8 L1163.3 179.4 L1163.9 178.9 L1164.5 178.6 L1165.0 178.3 L1165.3 178.1 L1165.6 177.9 L1165.8 177.8 L1165.8 177.8 L1165.8 177.8 L1165.8 178.0 L1165.6 178.7 L1165.3 179.7 L1165.0 181.2 L1164.5 183.0 L1163.9 185.2 L1163.3 187.6 L1162.5 190.1 L1161.6 192.6 L1160.6 195.0 L1159.5 197.2 L1158.4 199.5 L1157.1 201.8 L1155.7 204.4 L1154.2 207.4 L1152.6 210.4 L1151.0 212.9 L1149.2 214.9 L1147.3 216.5 L1145.4 218.0 L1143.3 219.3 L1141.2 220.5 L1139.0 221.7 L1136.6 222.8 L1134.2 224.1 L1131.7 225.4 L1129.2 226.7 L1126.5 228.0 L1123.8 229.3 L1121.0 230.6 L1118.1 231.8 L1115.1 232.9 L1112.1 233.8 L1108.9 234.7 L1105.8 235.5 L1102.5 236.3 L1099.2 237.0 L1095.8 237.6 L1092.3 238.2 L1088.8 238.8 L1085.3 239.3 L1081.6 239.7 L1078.0 240.2 L1074.2 240.6 L1070.4 240.9 L1066.6 241.3 L1062.7 241.6 L1058.8 241.9 L1054.9 242.2 L1050.9 242.5 L1046.8 242.8 L1042.8 243.1 L1038.7 243.3 L1034.6 243.6 L1030.4 243.9 L1026.2 244.1 L1022.0 244.4 L1017.8 244.6 L1013.6 244.9 L1009.3 245.1 L1005.1 245.4 L1000.8 245.6 L996.5 245.8 L992.3 246.0 L988.0 246.2 L983.7 246.4 L979.4 246.5 L975.2 246.6 L970.9 246.7 L966.6 246.8 L962.4 246.9 L958.2 247.0 L954.0 247.2 L949.8 247.3 L945.7 247.4 L941.5 247.6 L937.4 247.7 L933.4 247.8 L929.3 248.0 L925.4 248.1 L921.4 248.2 L917.5 248.4 L913.6 248.6 L909.8 248.7 L906.0 248.9 L902.3 249.1 L898.6 249.3 L895.0 249.4 L891.4 249.6 L887.9 249.9 L884.4 250.1 L881.0 250.3 L877.7 250.5 L874.5 250.7 L871.3 250.9 L868.2 251.1 L865.1 251.4 L862.2 251.6 L859.3 251.8 L856.4 252.0 L853.7 252.2 L851.0 252.5 L848.5 252.7 L846.0 252.9 L843.6 253.1 L841.3 253.3 L839.0 253.5 L836.9 253.7 L834.8 253.9 L832.9 254.0 L831.0 254.2 L829.3 254.3 L827.6 254.5 L826.0 254.6 L824.5 254.7 L823.1 254.8 L821.9 254.9 L820.7 255.0 L819.6 255.0 L818.6 255.1 L817.7 255.1 L817.0 255.2 L816.3 255.2 L815.7 255.2 L815.2 255.2 L814.9 255.3 L814.6 255.3 L814.5 255.3 L814.4 255.3 L814.4 255.3" fill="none" stroke="#ff0000" stroke-width="2.7" stroke-linejoin="round"/>
<path d="M814.4 262.2 L814.4 261.4 L814.5 260.4 L814.6 257.4 L814.9 254.8 L815.2 252.8 L815.7 251.2 L816.3 249.8 L817.0 248.5 L817.7 247.3 L818.6 246.4 L819.6 245.6 L820.7 245.0 L821.9 244.4 L823.1 243.8 L824.5 243.3 L826.0 242.9 L827.6 242.5 L829.3 242.0 L831.0 241.6 L832.9 241.2 L834.8 240.7 L836.9 240.3 L839.0 239.9 L841.3 239.5 L843.6 239.1 L846.0 238.7 L848.5 238.4 L851.0 238.0 L853.7 237.6 L856.4 237.2 L859.3 236.8 L862.2 236.4 L865.1 236.1 L868.2 235.7 L871.3 235.4 L874.5 235.1 L877.7 234.8 L881.0 234.5 L884.4 234.2 L887.9 234.0 L891.4 233.7 L895.0 233.5 L898.6 233.2 L902.3 233.0 L906.0 232.8 L909.8 232.6 L913.6 232.4 L917.5 232.3 L921.4 232.1 L925.4 231.9 L929.3 231.8 L933.4 231.6 L937.4 231.5 L941.5 231.4 L945.7 231.2 L949.8 231.1 L954.0 230.9 L958.2 230.8 L962.4 230.7 L966.6 230.6 L970.9 230.4 L975.2 230.3 L979.4 230.2 L983.7 230.0 L988.0 229.8 L992.3 229.6 L996.5 229.3 L1000.8 229.0 L1005.1 228.6 L1009.3 228.2 L1013.6 227.8 L1017.8 227.3 L1022.0 226.9 L1026.2 226.4 L1030.4 225.9 L1034.6 225.4 L1038.7 224.8 L1042.8 224.2 L1046.8 223.5 L1050.9 222.8 L1054.9 222.1 L1058.8 221.4 L1062.7 220.6 L1066.6 219.8 L1070.4 218.9 L1074.2 217.9 L1078.0 217.0 L1081.6 215.9 L1085.3 214.8 L1088.8 213.7 L1092.3 212.5 L1095.8 211.3 L1099.2 210.1 L1102.5 208.8 L1105.8 207.6 L1108.9 206.2 L1112.1 204.9 L1115.1 203.6 L1118.1 202.2 L1121.0 200.8 L1123.8 199.5 L1126.5 198.1 L1129.2 196.7 L1131.7 195.3 L1134.2 194.0 L1136.6 192.6 L1139.0 191.3 L1141.2 189.9 L1143.3 188.5 L1145.4 187.2 L1147.3 185.8 L1149.2 184.4 L1151.0 183.0 L1152.6 181.7 L1154.2 180.4 L1155.7 179.2 L1157.1 178.1 L1158.4 177.0 L1159.5 176.0 L1160.6 175.1 L1161.6 174.3 L1162.5 173.5 L1163.3 172.9 L1163.9 172.3 L1164.5 171.8 L1165.0 171.4 L1165.3 171.1 L1165.6 170.9 L1165.8 170.8 L1165.8 170.8 L1165.8 170.8 L1165.8 172.9 L1165.6 174.0 L1165.3 175.8 L1165.0 178.1 L1164.5 180.5 L1163.9 183.0 L1163.3 185.6 L1162.5 188.3 L1161.6 191.0 L1160.6 193.5 L1159.5 196.0 L1158.4 198.4 L1157.1 200.9 L1155.7 203.6 L1154.2 206.6 L1152.6 209.7 L1151.0 212.3 L1149.2 214.5 L1147.3 216.3 L1145.4 217.9 L1143.3 219.4 L1141.2 220.8 L1139.0 222.1 L1136.6 223.5 L1134.2 224.8 L1131.7 226.2 L1129.2 227.7 L1126.5 229.1 L1123.8 230.5 L1121.0 231.8 L1118.1 233.1 L1115.1 234.3 L1112.1 235.4 L1108.9 236.3 L1105.8 237.3 L1102.5 238.1 L1099.2 238.9 L1095.8 239.6 L1092.3 240.3 L1088.8 240.9 L1085.3 241.5 L1081.6 242.0 L1078.0 242.5 L1074.2 243.0 L1070.4 243.4 L1066.6 243.9 L1062.7 244.3 L1058.8 244.6 L1054.9 245.0 L1050.9 245.3 L1046.8 245.7 L1042.8 246.0 L1038.7 246.3 L1034.6 246.6 L1030.4 246.9 L1026.2 247.2 L1022.0 247.5 L1017.8 247.7 L1013.6 248.0 L1009.3 248.3 L1005.1 248.5 L1000.8 248.8 L996.5 249.0 L992.3 249.3 L988.0 249.5 L983.7 249.7 L979.4 249.8 L975.2 250.0 L970.9 250.1 L966.6 250.3 L962.4 250.5 L958.2 250.6 L954.0 250.8 L949.8 250.9 L945.7 251.1 L941.5 251.3 L937.4 251.5 L933.4 251.7 L929.3 251.8 L925.4 252.0 L921.4 252.2 L917.5 252.4 L913.6 252.6 L909.8 252.9 L906.0 253.1 L902.3 253.4 L898.6 253.6 L895.0 253.9 L891.4 254.2 L887.9 254.5 L884.4 254.8 L881.0 255.1 L877.7 255.4 L874.5 255.7 L871.3 256.0 L868.2 256.4 L865.1 256.7 L862.2 257.0 L859.3 257.3 L856.4 257.6 L853.7 257.9 L851.0 258.2 L848.5 258.5 L846.0 258.8 L843.6 259.1 L841.3 259.4 L839.0 259.7 L836.9 259.9 L834.8 260.2 L832.9 260.4 L831.0 260.7 L829.3 260.9 L827.6 261.1 L826.0 261.2 L824.5 261.4 L823.1 261.5 L821.9 261.6 L820.7 261.7 L819.6 261.8 L818.6 261.9 L817.7 262.0 L817.0 262.0 L816.3 262.1 L815.7 262.1 L815.2 262.2 L814.9 262.2 L814.6 262.2 L814.5 262.2 L814.4 262.2 L814.4 262.2" fill="none" stroke="#ff9900" stroke-width="2.7" stroke-linejoin="round"/>
<path d="M814.4 270.3 L814.4 270.3 L814.5 268.7 L814.6 263.6 L814.9 259.4 L815.2 256.5 L815.7 254.4 L816.3 252.5 L817.0 250.8 L817.7 249.3 L818.6 248.1 L819.6 247.2 L820.7 246.3 L821.9 245.5 L823.1 244.7 L824.5 244.0 L826.0 243.4 L827.6 242.7 L829.3 242.1 L831.0 241.4 L832.9 240.7 L834.8 240.1 L836.9 239.5 L839.0 238.9 L841.3 238.3 L843.6 237.8 L846.0 237.2 L848.5 236.7 L851.0 236.2 L853.7 235.7 L856.4 235.2 L859.3 234.7 L862.2 234.2 L865.1 233.7 L868.2 233.3 L871.3 232.9 L874.5 232.5 L877.7 232.1 L881.0 231.7 L884.4 231.4 L887.9 231.0 L891.4 230.7 L895.0 230.4 L898.6 230.1 L902.3 229.8 L906.0 229.6 L909.8 229.3 L913.6 229.1 L917.5 228.8 L921.4 228.6 L925.4 228.4 L929.3 228.2 L933.4 228.0 L937.4 227.8 L941.5 227.6 L945.7 227.4 L949.8 227.2 L954.0 227.1 L958.2 226.9 L962.4 226.7 L966.6 226.6 L970.9 226.4 L975.2 226.2 L979.4 226.1 L983.7 225.9 L988.0 225.7 L992.3 225.4 L996.5 225.1 L1000.8 224.8 L1005.1 224.4 L1009.3 224.0 L1013.6 223.6 L1017.8 223.2 L1022.0 222.7 L1026.2 222.2 L1030.4 221.7 L1034.6 221.2 L1038.7 220.6 L1042.8 220.0 L1046.8 219.4 L1050.9 218.7 L1054.9 218.0 L1058.8 217.3 L1062.7 216.5 L1066.6 215.7 L1070.4 214.8 L1074.2 213.9 L1078.0 212.9 L1081.6 211.9 L1085.3 210.9 L1088.8 209.8 L1092.3 208.6 L1095.8 207.4 L1099.2 206.2 L1102.5 205.0 L1105.8 203.7 L1108.9 202.5 L1112.1 201.2 L1115.1 199.8 L1118.1 198.5 L1121.0 197.1 L1123.8 195.8 L1126.5 194.4 L1129.2 193.0 L1131.7 191.6 L1134.2 190.3 L1136.6 188.9 L1139.0 187.5 L1141.2 186.1 L1143.3 184.7 L1145.4 183.3 L1147.3 181.9 L1149.2 180.4 L1151.0 178.9 L1152.6 177.5 L1154.2 176.1 L1155.7 174.8 L1157.1 173.5 L1158.4 172.3 L1159.5 171.1 L1160.6 170.1 L1161.6 169.1 L1162.5 168.2 L1163.3 167.5 L1163.9 166.8 L1164.5 166.2 L1165.0 165.7 L1165.3 165.4 L1165.6 165.1 L1165.8 165.0 L1165.8 164.9 L1165.8 164.9 L1165.8 168.9 L1165.6 170.4 L1165.3 172.8 L1165.0 175.7 L1164.5 178.5 L1163.9 181.2 L1163.3 184.1 L1162.5 186.9 L1161.6 189.7 L1160.6 192.4 L1159.5 195.0 L1158.4 197.6 L1157.1 200.1 L1155.7 202.9 L1154.2 206.0 L1152.6 209.1 L1151.0 211.9 L1149.2 214.1 L1147.3 216.1 L1145.4 217.9 L1143.3 219.5 L1141.2 221.0 L1139.0 222.5 L1136.6 223.9 L1134.2 225.4 L1131.7 226.9 L1129.2 228.4 L1126.5 229.9 L1123.8 231.4 L1121.0 232.8 L1118.1 234.2 L1115.1 235.5 L1112.1 236.6 L1108.9 237.7 L1105.8 238.7 L1102.5 239.6 L1099.2 240.4 L1095.8 241.2 L1092.3 242.0 L1088.8 242.6 L1085.3 243.3 L1081.6 243.9 L1078.0 244.4 L1074.2 244.9 L1070.4 245.4 L1066.6 245.9 L1062.7 246.4 L1058.8 246.8 L1054.9 247.2 L1050.9 247.6 L1046.8 248.0 L1042.8 248.3 L1038.7 248.7 L1034.6 249.0 L1030.4 249.3 L1026.2 249.6 L1022.0 249.9 L1017.8 250.2 L1013.6 250.5 L1009.3 250.7 L1005.1 251.0 L1000.8 251.3 L996.5 251.6 L992.3 251.8 L988.0 252.1 L983.7 252.3 L979.4 252.5 L975.2 252.7 L970.9 252.9 L966.6 253.1 L962.4 253.2 L958.2 253.4 L954.0 253.6 L949.8 253.8 L945.7 254.0 L941.5 254.3 L937.4 254.5 L933.4 254.7 L929.3 254.9 L925.4 255.1 L921.4 255.4 L917.5 255.7 L913.6 255.9 L909.8 256.2 L906.0 256.6 L902.3 256.9 L898.6 257.2 L895.0 257.6 L891.4 258.0 L887.9 258.4 L884.4 258.8 L881.0 259.2 L877.7 259.6 L874.5 260.0 L871.3 260.4 L868.2 260.8 L865.1 261.3 L862.2 261.7 L859.3 262.1 L856.4 262.5 L853.7 262.9 L851.0 263.3 L848.5 263.7 L846.0 264.1 L843.6 264.5 L841.3 264.9 L839.0 265.2 L836.9 265.6 L834.8 265.9 L832.9 266.2 L831.0 266.5 L829.3 266.8 L827.6 267.0 L826.0 267.3 L824.5 267.5 L823.1 267.7 L821.9 267.8 L820.7 268.0 L819.6 268.1 L818.6 268.2 L817.7 268.3 L817.0 268.4 L816.3 268.5 L815.7 268.5 L815.2 268.6 L814.9 268.6 L814.6 268.6 L814.5 268.7 L814.4 268.7 L814.4 270.3" fill="none" stroke="#ffff00" stroke-width="2.7" stroke-linejoin="round"/>
<path d="M814.4 281.7 L814.4 281.7 L814.5 279.2 L814.6 271.5 L814.9 265.3 L815.2 261.3 L815.7 258.4 L816.3 256.0 L817.0 253.8 L817.7 251.9 L818.6 250.4 L819.6 249.1 L820.7 248.0 L821.9 246.9 L823.1 245.9 L824.5 244.9 L826.0 244.0 L827.6 243.1 L829.3 242.1 L831.0 241.1 L832.9 240.2 L834.8 239.3 L836.9 238.4 L839.0 237.6 L841.3 236.8 L843.6 236.1 L846.0 235.3 L848.5 234.6 L851.0 233.9 L853.7 233.3 L856.4 232.6 L859.3 232.0 L862.2 231.4 L865.1 230.8 L868.2 230.2 L871.3 229.7 L874.5 229.2 L877.7 228.7 L881.0 228.2 L884.4 227.7 L887.9 227.3 L891.4 226.9 L895.0 226.5 L898.6 226.1 L902.3 225.8 L906.0 225.4 L909.8 225.1 L913.6 224.8 L917.5 224.5 L921.4 224.2 L925.4 223.9 L929.3 223.6 L933.4 223.4 L937.4 223.1 L941.5 222.9 L945.7 222.6 L949.8 222.4 L954.0 222.2 L958.2 221.9 L962.4 221.7 L966.6 221.5 L970.9 221.3 L975.2 221.1 L979.4 220.9 L983.7 220.7 L988.0 220.4 L992.3 220.2 L996.5 219.9 L1000.8 219.5 L1005.1 219.2 L1009.3 218.8 L1013.6 218.3 L1017.8 217.9 L1022.0 217.4 L1026.2 217.0 L1030.4 216.4 L1034.6 215.9 L1038.7 215.3 L1042.8 214.7 L1046.8 214.1 L1050.9 213.4 L1054.9 212.7 L1058.8 212.0 L1062.7 211.3 L1066.6 210.5 L1070.4 209.6 L1074.2 208.7 L1078.0 207.8 L1081.6 206.8 L1085.3 205.8 L1088.8 204.7 L1092.3 203.6 L1095.8 202.5 L1099.2 201.3 L1102.5 200.1 L1105.8 198.9 L1108.9 197.7 L1112.1 196.4 L1115.1 195.1 L1118.1 193.8 L1121.0 192.4 L1123.8 191.1 L1126.5 189.7 L1129.2 188.4 L1131.7 187.0 L1134.2 185.6 L1136.6 184.2 L1139.0 182.8 L1141.2 181.4 L1143.3 179.9 L1145.4 178.4 L1147.3 176.9 L1149.2 175.3 L1151.0 173.7 L1152.6 172.1 L1154.2 170.6 L1155.7 169.1 L1157.1 167.7 L1158.4 166.3 L1159.5 165.0 L1160.6 163.7 L1161.6 162.6 L1162.5 161.6 L1163.3 160.6 L1163.9 159.8 L1164.5 159.1 L1165.0 158.5 L1165.3 158.1 L1165.6 157.7 L1165.8 157.6 L1165.8 157.5 L1165.8 157.5 L1165.8 164.2 L1165.6 166.1 L1165.3 169.2 L1165.0 172.8 L1164.5 176.1 L1163.9 179.2 L1163.3 182.3 L1162.5 185.3 L1161.6 188.2 L1160.6 191.1 L1159.5 193.9 L1158.4 196.6 L1157.1 199.3 L1155.7 202.2 L1154.2 205.3 L1152.6 208.5 L1151.0 211.3 L1149.2 213.7 L1147.3 215.9 L1145.4 217.8 L1143.3 219.6 L1141.2 221.3 L1139.0 222.9 L1136.6 224.5 L1134.2 226.1 L1131.7 227.7 L1129.2 229.3 L1126.5 230.9 L1123.8 232.5 L1121.0 234.0 L1118.1 235.5 L1115.1 236.8 L1112.1 238.1 L1108.9 239.2 L1105.8 240.3 L1102.5 241.3 L1099.2 242.2 L1095.8 243.1 L1092.3 243.9 L1088.8 244.6 L1085.3 245.3 L1081.6 246.0 L1078.0 246.6 L1074.2 247.2 L1070.4 247.8 L1066.6 248.3 L1062.7 248.8 L1058.8 249.3 L1054.9 249.8 L1050.9 250.2 L1046.8 250.7 L1042.8 251.1 L1038.7 251.4 L1034.6 251.8 L1030.4 252.1 L1026.2 252.4 L1022.0 252.7 L1017.8 253.0 L1013.6 253.3 L1009.3 253.6 L1005.1 253.9 L1000.8 254.2 L996.5 254.5 L992.3 254.8 L988.0 255.1 L983.7 255.3 L979.4 255.6 L975.2 255.8 L970.9 256.1 L966.6 256.3 L962.4 256.5 L958.2 256.7 L954.0 257.0 L949.8 257.2 L945.7 257.5 L941.5 257.7 L937.4 258.0 L933.4 258.2 L929.3 258.5 L925.4 258.8 L921.4 259.1 L917.5 259.4 L913.6 259.8 L909.8 260.2 L906.0 260.6 L902.3 261.0 L898.6 261.5 L895.0 262.0 L891.4 262.5 L887.9 263.0 L884.4 263.5 L881.0 264.0 L877.7 264.6 L874.5 265.1 L871.3 265.7 L868.2 266.2 L865.1 266.8 L862.2 267.3 L859.3 267.9 L856.4 268.4 L853.7 268.9 L851.0 269.5 L848.5 270.0 L846.0 270.5 L843.6 271.0 L841.3 271.5 L839.0 272.0 L836.9 272.4 L834.8 272.9 L832.9 273.3 L831.0 273.7 L829.3 274.0 L827.6 274.4 L826.0 274.7 L824.5 275.0 L823.1 275.2 L821.9 275.5 L820.7 275.7 L819.6 275.8 L818.6 276.0 L817.7 276.1 L817.0 276.2 L816.3 276.3 L815.7 276.4 L815.2 276.5 L814.9 276.5 L814.6 276.6 L814.5 276.6 L814.4 276.6 L814.4 281.7" fill="none" stroke="#22ee00" stroke-width="2.7" stroke-linejoin="round"/>
<path d="M814.4 293.1 L814.4 293.1 L814.5 289.7 L814.6 279.4 L814.9 271.2 L815.2 266.1 L815.7 262.5 L816.3 259.5 L817.0 256.7 L817.7 254.4 L818.6 252.6 L819.6 251.0 L820.7 249.6 L821.9 248.3 L823.1 247.0 L824.5 245.8 L826.0 244.7 L827.6 243.4 L829.3 242.1 L831.0 240.9 L832.9 239.7 L834.8 238.5 L836.9 237.3 L839.0 236.3 L841.3 235.3 L843.6 234.4 L846.0 233.4 L848.5 232.5 L851.0 231.7 L853.7 230.8 L856.4 230.0 L859.3 229.3 L862.2 228.5 L865.1 227.8 L868.2 227.2 L871.3 226.5 L874.5 225.8 L877.7 225.2 L881.0 224.6 L884.4 224.1 L887.9 223.6 L891.4 223.1 L895.0 222.6 L898.6 222.1 L902.3 221.7 L906.0 221.3 L909.8 220.9 L913.6 220.5 L917.5 220.1 L921.4 219.8 L925.4 219.4 L929.3 219.1 L933.4 218.8 L937.4 218.4 L941.5 218.1 L945.7 217.8 L949.8 217.5 L954.0 217.2 L958.2 217.0 L962.4 216.7 L966.6 216.4 L970.9 216.2 L975.2 215.9 L979.4 215.7 L983.7 215.5 L988.0 215.2 L992.3 214.9 L996.5 214.6 L1000.8 214.3 L1005.1 213.9 L1009.3 213.5 L1013.6 213.1 L1017.8 212.6 L1022.0 212.2 L1026.2 211.7 L1030.4 211.2 L1034.6 210.6 L1038.7 210.1 L1042.8 209.5 L1046.8 208.8 L1050.9 208.2 L1054.9 207.5 L1058.8 206.8 L1062.7 206.0 L1066.6 205.3 L1070.4 204.4 L1074.2 203.6 L1078.0 202.7 L1081.6 201.7 L1085.3 200.8 L1088.8 199.7 L1092.3 198.7 L1095.8 197.6 L1099.2 196.4 L1102.5 195.3 L1105.8 194.1 L1108.9 192.9 L1112.1 191.6 L1115.1 190.4 L1118.1 189.1 L1121.0 187.8 L1123.8 186.4 L1126.5 185.1 L1129.2 183.7 L1131.7 182.3 L1134.2 180.9 L1136.6 179.5 L1139.0 178.1 L1141.2 176.6 L1143.3 175.1 L1145.4 173.6 L1147.3 171.9 L1149.2 170.2 L1151.0 168.5 L1152.6 166.8 L1154.2 165.1 L1155.7 163.5 L1157.1 161.9 L1158.4 160.3 L1159.5 158.8 L1160.6 157.4 L1161.6 156.1 L1162.5 154.9 L1163.3 153.8 L1163.9 152.8 L1164.5 152.0 L1165.0 151.3 L1165.3 150.8 L1165.6 150.4 L1165.8 150.1 L1165.8 150.1 L1165.8 150.1 L1165.8 156.2 L1165.6 158.8 L1165.3 163.0 L1165.0 168.0 L1164.5 172.1 L1163.9 175.7 L1163.3 179.3 L1162.5 182.6 L1161.6 185.7 L1160.6 188.9 L1159.5 191.9 L1158.4 194.9 L1157.1 197.8 L1155.7 200.9 L1154.2 204.2 L1152.6 207.4 L1151.0 210.4 L1149.2 213.1 L1147.3 215.5 L1145.4 217.7 L1143.3 219.8 L1141.2 221.7 L1139.0 223.6 L1136.6 225.5 L1134.2 227.3 L1131.7 229.1 L1129.2 230.9 L1126.5 232.6 L1123.8 234.3 L1121.0 236.0 L1118.1 237.6 L1115.1 239.2 L1112.1 240.5 L1108.9 241.8 L1105.8 243.1 L1102.5 244.2 L1099.2 245.2 L1095.8 246.2 L1092.3 247.2 L1088.8 248.0 L1085.3 248.9 L1081.6 249.6 L1078.0 250.4 L1074.2 251.1 L1070.4 251.8 L1066.6 252.4 L1062.7 253.1 L1058.8 253.7 L1054.9 254.3 L1050.9 254.8 L1046.8 255.3 L1042.8 255.7 L1038.7 256.1 L1034.6 256.5 L1030.4 256.9 L1026.2 257.3 L1022.0 257.6 L1017.8 257.9 L1013.6 258.3 L1009.3 258.6 L1005.1 259.0 L1000.8 259.3 L996.5 259.6 L992.3 259.9 L988.0 260.3 L983.7 260.6 L979.4 260.9 L975.2 261.2 L970.9 261.5 L966.6 261.8 L962.4 262.1 L958.2 262.4 L954.0 262.7 L949.8 263.0 L945.7 263.3 L941.5 263.6 L937.4 264.0 L933.4 264.3 L929.3 264.6 L925.4 265.0 L921.4 265.4 L917.5 265.9 L913.6 266.4 L909.8 266.9 L906.0 267.5 L902.3 268.0 L898.6 268.7 L895.0 269.3 L891.4 270.0 L887.9 270.7 L884.4 271.4 L881.0 272.1 L877.7 272.8 L874.5 273.6 L871.3 274.3 L868.2 275.0 L865.1 275.8 L862.2 276.5 L859.3 277.3 L856.4 278.0 L853.7 278.7 L851.0 279.4 L848.5 280.1 L846.0 280.8 L843.6 281.5 L841.3 282.2 L839.0 282.8 L836.9 283.4 L834.8 284.0 L832.9 284.6 L831.0 285.1 L829.3 285.6 L827.6 286.1 L826.0 286.5 L824.5 286.9 L823.1 287.3 L821.9 287.6 L820.7 287.9 L819.6 288.1 L818.6 288.3 L817.7 288.5 L817.0 288.7 L816.3 288.8 L815.7 288.9 L815.2 289.0 L814.9 289.1 L814.6 289.1 L814.5 289.2 L814.4 289.2 L814.4 293.1" fill="none" stroke="#00ffff" stroke-width="2.7" stroke-linejoin="round"/>
<path d="M814.4 301.8 L814.4 301.8 L814.5 297.7 L814.6 285.5 L814.9 275.7 L815.2 269.8 L815.7 265.6 L816.3 262.1 L817.0 259.0 L817.7 256.4 L818.6 254.3 L819.6 252.5 L820.7 250.9 L821.9 249.4 L823.1 247.9 L824.5 246.5 L826.0 245.1 L827.6 243.7 L829.3 242.2 L831.0 240.7 L832.9 239.2 L834.8 237.8 L836.9 236.5 L839.0 235.3 L841.3 234.2 L843.6 233.0 L846.0 232.0 L848.5 230.9 L851.0 229.9 L853.7 229.0 L856.4 228.1 L859.3 227.2 L862.2 226.4 L865.1 225.6 L868.2 224.8 L871.3 224.0 L874.5 223.3 L877.7 222.6 L881.0 221.9 L884.4 221.3 L887.9 220.7 L891.4 220.1 L895.0 219.6 L898.6 219.1 L902.3 218.6 L906.0 218.1 L909.8 217.6 L913.6 217.2 L917.5 216.8 L921.4 216.4 L925.4 216.0 L929.3 215.6 L933.4 215.2 L937.4 214.8 L941.5 214.5 L945.7 214.1 L949.8 213.8 L954.0 213.5 L958.2 213.1 L962.4 212.8 L966.6 212.5 L970.9 212.3 L975.2 212.0 L979.4 211.7 L983.7 211.4 L988.0 211.2 L992.3 210.9 L996.5 210.5 L1000.8 210.2 L1005.1 209.8 L1009.3 209.4 L1013.6 209.0 L1017.8 208.6 L1022.0 208.1 L1026.2 207.6 L1030.4 207.1 L1034.6 206.6 L1038.7 206.0 L1042.8 205.4 L1046.8 204.8 L1050.9 204.1 L1054.9 203.4 L1058.8 202.7 L1062.7 202.0 L1066.6 201.3 L1070.4 200.5 L1074.2 199.6 L1078.0 198.7 L1081.6 197.8 L1085.3 196.9 L1088.8 195.9 L1092.3 194.8 L1095.8 193.8 L1099.2 192.7 L1102.5 191.5 L1105.8 190.4 L1108.9 189.2 L1112.1 188.0 L1115.1 186.7 L1118.1 185.5 L1121.0 184.2 L1123.8 182.8 L1126.5 181.5 L1129.2 180.1 L1131.7 178.7 L1134.2 177.3 L1136.6 175.9 L1139.0 174.5 L1141.2 173.0 L1143.3 171.4 L1145.4 169.8 L1147.3 168.1 L1149.2 166.3 L1151.0 164.5 L1152.6 162.7 L1154.2 160.9 L1155.7 159.2 L1157.1 157.4 L1158.4 155.8 L1159.5 154.1 L1160.6 152.5 L1161.6 151.1 L1162.5 149.7 L1163.3 148.5 L1163.9 147.4 L1164.5 146.5 L1165.0 145.7 L1165.3 145.1 L1165.6 144.7 L1165.8 144.5 L1165.8 144.4 L1165.8 144.4 L1165.8 148.1 L1165.6 151.4 L1165.3 156.8 L1165.0 163.1 L1164.5 168.0 L1163.9 172.3 L1163.3 176.2 L1162.5 179.8 L1161.6 183.2 L1160.6 186.7 L1159.5 190.0 L1158.4 193.2 L1157.1 196.3 L1155.7 199.6 L1154.2 203.0 L1152.6 206.3 L1151.0 209.5 L1149.2 212.4 L1147.3 215.1 L1145.4 217.6 L1143.3 220.0 L1141.2 222.2 L1139.0 224.3 L1136.6 226.4 L1134.2 228.5 L1131.7 230.5 L1129.2 232.4 L1126.5 234.3 L1123.8 236.2 L1121.0 238.0 L1118.1 239.8 L1115.1 241.5 L1112.1 243.0 L1108.9 244.5 L1105.8 245.8 L1102.5 247.1 L1099.2 248.3 L1095.8 249.4 L1092.3 250.5 L1088.8 251.4 L1085.3 252.4 L1081.6 253.3 L1078.0 254.1 L1074.2 255.0 L1070.4 255.8 L1066.6 256.6 L1062.7 257.3 L1058.8 258.0 L1054.9 258.7 L1050.9 259.3 L1046.8 259.9 L1042.8 260.4 L1038.7 260.9 L1034.6 261.3 L1030.4 261.7 L1026.2 262.1 L1022.0 262.5 L1017.8 262.8 L1013.6 263.2 L1009.3 263.6 L1005.1 264.0 L1000.8 264.3 L996.5 264.7 L992.3 265.1 L988.0 265.4 L983.7 265.8 L979.4 266.2 L975.2 266.6 L970.9 266.9 L966.6 267.3 L962.4 267.7 L958.2 268.1 L954.0 268.4 L949.8 268.8 L945.7 269.2 L941.5 269.6 L937.4 269.9 L933.4 270.3 L929.3 270.8 L925.4 271.2 L921.4 271.7 L917.5 272.3 L913.6 272.8 L909.8 273.5 L906.0 274.1 L902.3 274.8 L898.6 275.6 L895.0 276.4 L891.4 277.2 L887.9 278.0 L884.4 278.8 L881.0 279.7 L877.7 280.6 L874.5 281.5 L871.3 282.4 L868.2 283.3 L865.1 284.2 L862.2 285.1 L859.3 285.9 L856.4 286.8 L853.7 287.7 L851.0 288.5 L848.5 289.4 L846.0 290.2 L843.6 291.0 L841.3 291.8 L839.0 292.5 L836.9 293.3 L834.8 294.0 L832.9 294.7 L831.0 295.3 L829.3 295.9 L827.6 296.4 L826.0 297.0 L824.5 297.4 L823.1 297.8 L821.9 298.2 L820.7 298.6 L819.6 298.8 L818.6 299.1 L817.7 299.3 L817.0 299.5 L816.3 299.7 L815.7 299.8 L815.2 299.9 L814.9 300.0 L814.6 300.0 L814.5 300.1 L814.4 300.1 L814.4 301.8" fill="none" stroke="#5500ff" stroke-width="2.7" stroke-linejoin="round"/>
<path d="M814.4 310.5 L814.4 310.5 L814.5 305.7 L814.6 291.5 L814.9 280.2 L815.2 273.4 L815.7 268.6 L816.3 264.8 L817.0 261.3 L817.7 258.3 L818.6 256.0 L819.6 254.0 L820.7 252.2 L821.9 250.4 L823.1 248.8 L824.5 247.2 L826.0 245.6 L827.6 243.9 L829.3 242.2 L831.0 240.5 L832.9 238.8 L834.8 237.2 L836.9 235.7 L839.0 234.3 L841.3 233.0 L843.6 231.7 L846.0 230.5 L848.5 229.4 L851.0 228.2 L853.7 227.2 L856.4 226.1 L859.3 225.1 L862.2 224.2 L865.1 223.3 L868.2 222.5 L871.3 221.6 L874.5 220.8 L877.7 220.0 L881.0 219.3 L884.4 218.5 L887.9 217.9 L891.4 217.2 L895.0 216.6 L898.6 216.1 L902.3 215.5 L906.0 215.0 L909.8 214.4 L913.6 213.9 L917.5 213.5 L921.4 213.0 L925.4 212.6 L929.3 212.1 L933.4 211.7 L937.4 211.3 L941.5 210.9 L945.7 210.5 L949.8 210.1 L954.0 209.7 L958.2 209.4 L962.4 209.0 L966.6 208.7 L970.9 208.4 L975.2 208.1 L979.4 207.8 L983.7 207.5 L988.0 207.2 L992.3 206.9 L996.5 206.6 L1000.8 206.2 L1005.1 205.8 L1009.3 205.5 L1013.6 205.0 L1017.8 204.6 L1022.0 204.1 L1026.2 203.6 L1030.4 203.1 L1034.6 202.6 L1038.7 202.0 L1042.8 201.4 L1046.8 200.8 L1050.9 200.1 L1054.9 199.5 L1058.8 198.8 L1062.7 198.1 L1066.6 197.3 L1070.4 196.5 L1074.2 195.7 L1078.0 194.9 L1081.6 194.0 L1085.3 193.0 L1088.8 192.1 L1092.3 191.1 L1095.8 190.0 L1099.2 188.9 L1102.5 187.8 L1105.8 186.7 L1108.9 185.5 L1112.1 184.4 L1115.1 183.1 L1118.1 181.9 L1121.0 180.6 L1123.8 179.3 L1126.5 177.9 L1129.2 176.6 L1131.7 175.2 L1134.2 173.8 L1136.6 172.4 L1139.0 170.9 L1141.2 169.4 L1143.3 167.8 L1145.4 166.1 L1147.3 164.4 L1149.2 162.5 L1151.0 160.6 L1152.6 158.7 L1154.2 156.8 L1155.7 154.9 L1157.1 153.1 L1158.4 151.2 L1159.5 149.5 L1160.6 147.8 L1161.6 146.1 L1162.5 144.7 L1163.3 143.3 L1163.9 142.1 L1164.5 141.1 L1165.0 140.3 L1165.3 139.6 L1165.6 139.1 L1165.8 138.8 L1165.8 138.7 L1165.8 138.7 L1165.8 140.1 L1165.6 144.1 L1165.3 150.7 L1165.0 158.2 L1164.5 164.0 L1163.9 168.8 L1163.3 173.2 L1162.5 177.0 L1161.6 180.7 L1160.6 184.5 L1159.5 188.1 L1158.4 191.5 L1157.1 194.8 L1155.7 198.3 L1154.2 201.8 L1152.6 205.3 L1151.0 208.6 L1149.2 211.7 L1147.3 214.7 L1145.4 217.5 L1143.3 220.1 L1141.2 222.6 L1139.0 225.1 L1136.6 227.4 L1134.2 229.6 L1131.7 231.8 L1129.2 233.9 L1126.5 236.0 L1123.8 238.0 L1121.0 240.0 L1118.1 242.0 L1115.1 243.8 L1112.1 245.5 L1108.9 247.1 L1105.8 248.6 L1102.5 250.0 L1099.2 251.3 L1095.8 252.6 L1092.3 253.7 L1088.8 254.8 L1085.3 255.9 L1081.6 256.9 L1078.0 257.9 L1074.2 258.8 L1070.4 259.8 L1066.6 260.7 L1062.7 261.6 L1058.8 262.4 L1054.9 263.1 L1050.9 263.8 L1046.8 264.5 L1042.8 265.1 L1038.7 265.6 L1034.6 266.0 L1030.4 266.5 L1026.2 266.9 L1022.0 267.3 L1017.8 267.7 L1013.6 268.1 L1009.3 268.6 L1005.1 269.0 L1000.8 269.4 L996.5 269.8 L992.3 270.2 L988.0 270.6 L983.7 271.0 L979.4 271.5 L975.2 271.9 L970.9 272.4 L966.6 272.8 L962.4 273.3 L958.2 273.7 L954.0 274.1 L949.8 274.6 L945.7 275.0 L941.5 275.5 L937.4 275.9 L933.4 276.4 L929.3 276.9 L925.4 277.4 L921.4 278.0 L917.5 278.6 L913.6 279.2 L909.8 280.0 L906.0 280.7 L902.3 281.5 L898.6 282.3 L895.0 283.2 L891.4 284.1 L887.9 285.1 L884.4 286.0 L881.0 287.0 L877.7 288.0 L874.5 289.0 L871.3 290.1 L868.2 291.1 L865.1 292.1 L862.2 293.1 L859.3 294.1 L856.4 295.1 L853.7 296.1 L851.0 297.0 L848.5 298.0 L846.0 298.9 L843.6 299.8 L841.3 300.7 L839.0 301.5 L836.9 302.3 L834.8 303.1 L832.9 303.9 L831.0 304.6 L829.3 305.3 L827.6 305.9 L826.0 306.5 L824.5 307.0 L823.1 307.5 L821.9 307.9 L820.7 308.2 L819.6 308.6 L818.6 308.9 L817.7 309.1 L817.0 309.3 L816.3 309.5 L815.7 309.6 L815.2 309.7 L814.9 309.8 L814.6 309.9 L814.5 309.9 L814.4 309.9 L814.4 310.5" fill="none" stroke="#000000" stroke-width="2.7" stroke-linejoin="round"/>
<rect x="814.00" y="78.20" width="384.60" height="329.80" fill="none" stroke="#000" stroke-width="1.75"/>
<line x1="800.00" y1="78.20" x2="814.00" y2="78.20" stroke="#000" stroke-width="1.75"/>
<text transform="translate(791.30 86.80) scale(0.935 1)" font-size="29.2" text-anchor="end">10</text>
<line x1="800.00" y1="160.65" x2="814.00" y2="160.65" stroke="#000" stroke-width="1.75"/>
<text transform="translate(791.30 169.25) scale(0.935 1)" font-size="29.2" text-anchor="end">5</text>
<line x1="800.00" y1="243.10" x2="814.00" y2="243.10" stroke="#000" stroke-width="1.75"/>
<text transform="translate(791.30 251.70) scale(0.935 1)" font-size="29.2" text-anchor="end">0</text>
<line x1="800.00" y1="325.55" x2="814.00" y2="325.55" stroke="#000" stroke-width="1.75"/>
<text transform="translate(791.30 334.15) scale(0.935 1)" font-size="29.2" text-anchor="end">-5</text>
<line x1="800.00" y1="408.00" x2="814.00" y2="408.00" stroke="#000" stroke-width="1.75"/>
<text transform="translate(791.30 416.60) scale(0.935 1)" font-size="29.2" text-anchor="end">-10</text>
<line x1="814.00" y1="408.00" x2="814.00" y2="422.00" stroke="#000" stroke-width="1.75"/>
<text transform="translate(814.00 454.70) scale(0.935 1)" font-size="29.2" text-anchor="middle">0.0</text>
<line x1="878.10" y1="408.00" x2="878.10" y2="422.00" stroke="#000" stroke-width="1.75"/>
<text transform="translate(878.10 454.70) scale(0.935 1)" font-size="29.2" text-anchor="middle">0.2</text>
<line x1="942.20" y1="408.00" x2="942.20" y2="422.00" stroke="#000" stroke-width="1.75"/>
<text transform="translate(942.20 454.70) scale(0.935 1)" font-size="29.2" text-anchor="middle">0.4</text>
<line x1="1006.30" y1="408.00" x2="1006.30" y2="422.00" stroke="#000" stroke-width="1.75"/>
<text transform="translate(1006.30 454.70) scale(0.935 1)" font-size="29.2" text-anchor="middle">0.6</text>
<line x1="1070.40" y1="408.00" x2="1070.40" y2="422.00" stroke="#000" stroke-width="1.75"/>
<text transform="translate(1070.40 454.70) scale(0.935 1)" font-size="29.2" text-anchor="middle">0.8</text>
<line x1="1134.50" y1="408.00" x2="1134.50" y2="422.00" stroke="#000" stroke-width="1.75"/>
<text transform="translate(1134.50 454.70) scale(0.935 1)" font-size="29.2" text-anchor="middle">1.0</text>
<line x1="1198.60" y1="408.00" x2="1198.60" y2="422.00" stroke="#000" stroke-width="1.75"/>
<text transform="translate(1198.60 454.70) scale(0.935 1)" font-size="29.2" text-anchor="middle">1.2</text>
<text transform="translate(835.20 125.60) scale(0.99 1)" font-size="39.8" text-anchor="start">HPRS</text>
<text x="668.00" y="64.40" font-size="84" text-anchor="start">B</text>
<text transform="translate(713.60 242.30) rotate(-90) scale(0.945 1)" font-size="41.2" text-anchor="middle">Current (µA)</text>
<text transform="translate(776.80 505.50) scale(0.94 1)" font-size="41.7" text-anchor="start">Potential  (V vs Ag/AgCl)</text>
<line x1="939.10" y1="311.60" x2="957.60" y2="311.60" stroke="#ff0000" stroke-width="2.6"/>
<text transform="translate(965.30 317.00) scale(0.935 1)" font-size="20.5" text-anchor="start">30 mV/s</text>
<line x1="939.10" y1="334.00" x2="957.60" y2="334.00" stroke="#ff9900" stroke-width="2.6"/>
<text transform="translate(965.30 339.40) scale(0.935 1)" font-size="20.5" text-anchor="start">50 mV/s</text>
<line x1="939.10" y1="356.40" x2="957.60" y2="356.40" stroke="#ffff00" stroke-width="2.6"/>
<text transform="translate(965.30 361.80) scale(0.935 1)" font-size="20.5" text-anchor="start">75 mV/s</text>
<line x1="939.10" y1="378.80" x2="957.60" y2="378.80" stroke="#22ee00" stroke-width="2.6"/>
<text transform="translate(965.30 384.20) scale(0.935 1)" font-size="20.5" text-anchor="start">100 mV/s</text>
<line x1="1079.50" y1="311.60" x2="1098.00" y2="311.60" stroke="#00ffff" stroke-width="2.6"/>
<text transform="translate(1105.80 317.00) scale(0.935 1)" font-size="20.5" text-anchor="start">150 mV/s</text>
<line x1="1079.50" y1="334.00" x2="1098.00" y2="334.00" stroke="#5500ff" stroke-width="2.6"/>
<text transform="translate(1105.80 339.40) scale(0.935 1)" font-size="20.5" text-anchor="start">200 mV/s</text>
<line x1="1079.50" y1="356.40" x2="1098.00" y2="356.40" stroke="#000000" stroke-width="2.6"/>
<text transform="translate(1105.80 361.80) scale(0.935 1)" font-size="20.5" text-anchor="start">250 mV/s</text>
</g>
<g id="panel-C">
<path d="M1476.6 256.7 L1476.6 254.0 L1476.7 253.4 L1476.8 251.6 L1477.1 249.4 L1477.5 248.1 L1477.9 246.7 L1478.5 245.4 L1479.2 244.4 L1480.0 243.7 L1480.8 243.1 L1481.8 242.6 L1482.9 242.2 L1484.1 241.8 L1485.4 241.4 L1486.7 241.1 L1488.2 240.6 L1489.8 240.1 L1491.5 239.5 L1493.2 238.9 L1495.1 238.4 L1497.1 237.8 L1499.1 237.4 L1501.3 237.0 L1503.5 236.6 L1505.8 236.3 L1508.2 235.9 L1510.7 235.6 L1513.3 235.3 L1515.9 235.0 L1518.7 234.8 L1521.5 234.6 L1524.4 234.5 L1527.4 234.4 L1530.4 234.3 L1533.5 234.3 L1536.7 234.2 L1540.0 234.2 L1543.3 234.1 L1546.7 234.1 L1550.1 234.1 L1553.6 234.0 L1557.2 234.0 L1560.8 234.0 L1564.5 234.0 L1568.2 234.0 L1572.0 233.9 L1575.8 233.9 L1579.7 233.9 L1583.6 233.8 L1587.6 233.8 L1591.6 233.7 L1595.6 233.7 L1599.7 233.6 L1603.8 233.6 L1607.9 233.5 L1612.1 233.4 L1616.3 233.3 L1620.5 233.2 L1624.7 233.1 L1628.9 233.0 L1633.2 232.8 L1637.4 232.6 L1641.7 232.4 L1646.0 232.2 L1650.2 232.0 L1654.5 231.7 L1658.8 231.4 L1663.1 231.0 L1667.3 230.6 L1671.6 230.2 L1675.8 229.7 L1680.1 229.2 L1684.3 228.7 L1688.5 228.1 L1692.7 227.5 L1696.8 226.9 L1701.0 226.3 L1705.1 225.7 L1709.1 225.0 L1713.2 224.3 L1717.2 223.6 L1721.1 222.8 L1725.0 222.1 L1728.9 221.2 L1732.7 220.4 L1736.5 219.6 L1740.3 218.7 L1743.9 217.8 L1747.6 216.8 L1751.1 215.8 L1754.6 214.8 L1758.1 213.8 L1761.5 212.7 L1764.8 211.6 L1768.1 210.4 L1771.2 209.2 L1774.4 208.0 L1777.4 206.7 L1780.4 205.4 L1783.3 204.1 L1786.1 202.8 L1788.8 201.5 L1791.5 200.1 L1794.1 198.8 L1796.5 197.5 L1799.0 196.2 L1801.3 194.8 L1803.5 193.5 L1805.6 192.2 L1807.7 190.8 L1809.6 189.6 L1811.5 188.3 L1813.3 187.1 L1815.0 185.9 L1816.5 184.7 L1818.0 183.6 L1819.4 182.5 L1820.7 181.5 L1821.9 180.5 L1822.9 179.7 L1823.9 178.9 L1824.8 178.3 L1825.6 177.7 L1826.3 177.3 L1826.8 176.9 L1827.3 176.6 L1827.7 176.3 L1827.9 176.1 L1828.1 176.0 L1828.1 176.0 L1828.1 176.0 L1828.1 176.2 L1827.9 176.7 L1827.7 177.7 L1827.3 178.9 L1826.8 180.5 L1826.3 182.5 L1825.6 184.7 L1824.8 187.1 L1823.9 189.8 L1822.9 192.7 L1821.9 195.8 L1820.7 199.1 L1819.4 202.4 L1818.0 205.2 L1816.5 207.6 L1815.0 209.8 L1813.3 211.9 L1811.5 213.9 L1809.6 215.8 L1807.7 217.6 L1805.6 219.1 L1803.5 220.4 L1801.3 221.7 L1799.0 223.0 L1796.5 224.3 L1794.1 225.6 L1791.5 227.0 L1788.8 228.3 L1786.1 229.5 L1783.3 230.7 L1780.4 231.7 L1777.4 232.7 L1774.4 233.6 L1771.2 234.5 L1768.1 235.3 L1764.8 236.0 L1761.5 236.7 L1758.1 237.3 L1754.6 237.9 L1751.1 238.5 L1747.6 239.0 L1743.9 239.5 L1740.3 239.9 L1736.5 240.4 L1732.7 240.8 L1728.9 241.2 L1725.0 241.6 L1721.1 242.0 L1717.2 242.3 L1713.2 242.7 L1709.1 243.1 L1705.1 243.4 L1701.0 243.7 L1696.8 244.0 L1692.7 244.3 L1688.5 244.6 L1684.3 244.8 L1680.1 245.0 L1675.8 245.2 L1671.6 245.4 L1667.3 245.5 L1663.1 245.7 L1658.8 245.8 L1654.5 245.8 L1650.2 245.9 L1646.0 246.0 L1641.7 246.2 L1637.4 246.3 L1633.2 246.4 L1628.9 246.5 L1624.7 246.7 L1620.5 246.8 L1616.3 247.0 L1612.1 247.1 L1607.9 247.3 L1603.8 247.4 L1599.7 247.6 L1595.6 247.7 L1591.6 247.9 L1587.6 248.0 L1583.6 248.2 L1579.7 248.3 L1575.8 248.5 L1572.0 248.7 L1568.2 248.8 L1564.5 249.0 L1560.8 249.2 L1557.2 249.4 L1553.6 249.6 L1550.1 249.8 L1546.7 250.1 L1543.3 250.3 L1540.0 250.6 L1536.7 250.8 L1533.5 251.1 L1530.4 251.4 L1527.4 251.6 L1524.4 251.9 L1521.5 252.2 L1518.7 252.5 L1515.9 252.8 L1513.3 253.1 L1510.7 253.3 L1508.2 253.6 L1505.8 253.9 L1503.5 254.2 L1501.3 254.4 L1499.1 254.7 L1497.1 254.9 L1495.1 255.1 L1493.2 255.3 L1491.5 255.5 L1489.8 255.7 L1488.2 255.8 L1486.7 256.0 L1485.4 256.1 L1484.1 256.2 L1482.9 256.3 L1481.8 256.4 L1480.8 256.5 L1480.0 256.5 L1479.2 256.6 L1478.5 256.6 L1477.9 256.7 L1477.5 256.7 L1477.1 256.7 L1476.8 256.7 L1476.7 256.7 L1476.6 256.7 L1476.6 256.7" fill="none" stroke="#ff0000" stroke-width="2.7" stroke-linejoin="round"/>
<path d="M1476.6 264.6 L1476.6 259.6 L1476.7 258.5 L1476.8 255.2 L1477.1 251.7 L1477.5 249.0 L1477.9 247.0 L1478.5 245.5 L1479.2 244.3 L1480.0 243.5 L1480.8 242.8 L1481.8 242.1 L1482.9 241.5 L1484.1 240.9 L1485.4 240.4 L1486.7 239.9 L1488.2 239.4 L1489.8 238.7 L1491.5 238.0 L1493.2 237.4 L1495.1 236.7 L1497.1 236.1 L1499.1 235.6 L1501.3 235.1 L1503.5 234.7 L1505.8 234.3 L1508.2 233.9 L1510.7 233.6 L1513.3 233.2 L1515.9 232.9 L1518.7 232.6 L1521.5 232.4 L1524.4 232.3 L1527.4 232.2 L1530.4 232.1 L1533.5 232.0 L1536.7 231.9 L1540.0 231.8 L1543.3 231.8 L1546.7 231.7 L1550.1 231.7 L1553.6 231.7 L1557.2 231.6 L1560.8 231.6 L1564.5 231.6 L1568.2 231.5 L1572.0 231.5 L1575.8 231.5 L1579.7 231.5 L1583.6 231.4 L1587.6 231.4 L1591.6 231.3 L1595.6 231.3 L1599.7 231.2 L1603.8 231.2 L1607.9 231.1 L1612.1 231.0 L1616.3 230.9 L1620.5 230.8 L1624.7 230.7 L1628.9 230.6 L1633.2 230.5 L1637.4 230.3 L1641.7 230.1 L1646.0 229.9 L1650.2 229.7 L1654.5 229.4 L1658.8 229.1 L1663.1 228.7 L1667.3 228.3 L1671.6 227.9 L1675.8 227.4 L1680.1 226.9 L1684.3 226.4 L1688.5 225.8 L1692.7 225.2 L1696.8 224.6 L1701.0 224.0 L1705.1 223.4 L1709.1 222.7 L1713.2 222.1 L1717.2 221.3 L1721.1 220.6 L1725.0 219.8 L1728.9 219.0 L1732.7 218.2 L1736.5 217.4 L1740.3 216.5 L1743.9 215.6 L1747.6 214.7 L1751.1 213.7 L1754.6 212.7 L1758.1 211.7 L1761.5 210.6 L1764.8 209.4 L1768.1 208.3 L1771.2 207.1 L1774.4 205.8 L1777.4 204.6 L1780.4 203.3 L1783.3 202.0 L1786.1 200.6 L1788.8 199.3 L1791.5 197.9 L1794.1 196.5 L1796.5 195.2 L1799.0 193.8 L1801.3 192.4 L1803.5 191.0 L1805.6 189.6 L1807.7 188.2 L1809.6 186.9 L1811.5 185.5 L1813.3 184.2 L1815.0 182.9 L1816.5 181.7 L1818.0 180.5 L1819.4 179.3 L1820.7 178.1 L1821.9 177.1 L1822.9 176.1 L1823.9 175.3 L1824.8 174.6 L1825.6 174.0 L1826.3 173.5 L1826.8 173.0 L1827.3 172.7 L1827.7 172.4 L1827.9 172.2 L1828.1 172.1 L1828.1 170.8 L1828.1 170.8 L1828.1 171.1 L1827.9 172.0 L1827.7 173.5 L1827.3 175.5 L1826.8 177.9 L1826.3 180.3 L1825.6 183.0 L1824.8 185.9 L1823.9 188.9 L1822.9 192.0 L1821.9 195.4 L1820.7 198.9 L1819.4 202.2 L1818.0 205.2 L1816.5 207.8 L1815.0 210.2 L1813.3 212.4 L1811.5 214.5 L1809.6 216.6 L1807.7 218.5 L1805.6 220.1 L1803.5 221.6 L1801.3 223.0 L1799.0 224.4 L1796.5 225.8 L1794.1 227.2 L1791.5 228.6 L1788.8 230.0 L1786.1 231.3 L1783.3 232.5 L1780.4 233.6 L1777.4 234.6 L1774.4 235.5 L1771.2 236.4 L1768.1 237.2 L1764.8 238.0 L1761.5 238.7 L1758.1 239.4 L1754.6 240.0 L1751.1 240.6 L1747.6 241.2 L1743.9 241.7 L1740.3 242.1 L1736.5 242.6 L1732.7 243.0 L1728.9 243.5 L1725.0 243.9 L1721.1 244.3 L1717.2 244.7 L1713.2 245.1 L1709.1 245.5 L1705.1 245.8 L1701.0 246.2 L1696.8 246.5 L1692.7 246.8 L1688.5 247.1 L1684.3 247.4 L1680.1 247.7 L1675.8 247.9 L1671.6 248.1 L1667.3 248.3 L1663.1 248.4 L1658.8 248.6 L1654.5 248.7 L1650.2 248.9 L1646.0 249.0 L1641.7 249.2 L1637.4 249.3 L1633.2 249.5 L1628.9 249.7 L1624.7 249.9 L1620.5 250.1 L1616.3 250.2 L1612.1 250.4 L1607.9 250.6 L1603.8 250.8 L1599.7 251.0 L1595.6 251.2 L1591.6 251.4 L1587.6 251.6 L1583.6 251.8 L1579.7 252.0 L1575.8 252.3 L1572.0 252.5 L1568.2 252.8 L1564.5 253.1 L1560.8 253.4 L1557.2 253.7 L1553.6 254.0 L1550.1 254.3 L1546.7 254.7 L1543.3 255.1 L1540.0 255.4 L1536.7 255.8 L1533.5 256.2 L1530.4 256.6 L1527.4 257.0 L1524.4 257.4 L1521.5 257.8 L1518.7 258.3 L1515.9 258.7 L1513.3 259.1 L1510.7 259.5 L1508.2 259.9 L1505.8 260.3 L1503.5 260.7 L1501.3 261.1 L1499.1 261.4 L1497.1 261.8 L1495.1 262.1 L1493.2 262.4 L1491.5 262.7 L1489.8 263.0 L1488.2 263.2 L1486.7 263.4 L1485.4 263.6 L1484.1 263.8 L1482.9 263.9 L1481.8 264.1 L1480.8 264.2 L1480.0 264.3 L1479.2 264.4 L1478.5 264.5 L1477.9 264.5 L1477.5 264.6 L1477.1 264.6 L1476.8 264.6 L1476.7 264.6 L1476.6 264.6 L1476.6 264.6" fill="none" stroke="#ff9900" stroke-width="2.7" stroke-linejoin="round"/>
<path d="M1476.6 273.2 L1476.6 267.0 L1476.7 265.3 L1476.8 260.1 L1477.1 254.6 L1477.5 250.2 L1477.9 247.3 L1478.5 245.6 L1479.2 244.3 L1480.0 243.2 L1480.8 242.3 L1481.8 241.3 L1482.9 240.5 L1484.1 239.8 L1485.4 239.1 L1486.7 238.4 L1488.2 237.7 L1489.8 236.8 L1491.5 236.0 L1493.2 235.2 L1495.1 234.5 L1497.1 233.8 L1499.1 233.2 L1501.3 232.6 L1503.5 232.1 L1505.8 231.6 L1508.2 231.2 L1510.7 230.8 L1513.3 230.4 L1515.9 230.0 L1518.7 229.7 L1521.5 229.5 L1524.4 229.3 L1527.4 229.2 L1530.4 229.0 L1533.5 228.9 L1536.7 228.8 L1540.0 228.7 L1543.3 228.6 L1546.7 228.6 L1550.1 228.5 L1553.6 228.5 L1557.2 228.4 L1560.8 228.4 L1564.5 228.3 L1568.2 228.3 L1572.0 228.3 L1575.8 228.3 L1579.7 228.2 L1583.6 228.2 L1587.6 228.1 L1591.6 228.1 L1595.6 228.1 L1599.7 228.0 L1603.8 228.0 L1607.9 227.9 L1612.1 227.8 L1616.3 227.8 L1620.5 227.7 L1624.7 227.6 L1628.9 227.5 L1633.2 227.4 L1637.4 227.2 L1641.7 227.1 L1646.0 226.9 L1650.2 226.7 L1654.5 226.4 L1658.8 226.0 L1663.1 225.7 L1667.3 225.3 L1671.6 224.8 L1675.8 224.3 L1680.1 223.8 L1684.3 223.3 L1688.5 222.7 L1692.7 222.1 L1696.8 221.6 L1701.0 221.0 L1705.1 220.3 L1709.1 219.7 L1713.2 219.0 L1717.2 218.3 L1721.1 217.6 L1725.0 216.9 L1728.9 216.1 L1732.7 215.3 L1736.5 214.5 L1740.3 213.6 L1743.9 212.7 L1747.6 211.8 L1751.1 210.8 L1754.6 209.8 L1758.1 208.8 L1761.5 207.7 L1764.8 206.6 L1768.1 205.4 L1771.2 204.2 L1774.4 203.0 L1777.4 201.7 L1780.4 200.4 L1783.3 199.1 L1786.1 197.7 L1788.8 196.3 L1791.5 194.9 L1794.1 193.4 L1796.5 192.0 L1799.0 190.6 L1801.3 189.1 L1803.5 187.7 L1805.6 186.2 L1807.7 184.7 L1809.6 183.3 L1811.5 181.8 L1813.3 180.3 L1815.0 178.9 L1816.5 177.6 L1818.0 176.2 L1819.4 174.9 L1820.7 173.6 L1821.9 172.4 L1822.9 171.4 L1823.9 170.4 L1824.8 169.7 L1825.6 169.0 L1826.3 168.4 L1826.8 167.9 L1827.3 167.5 L1827.7 167.2 L1827.9 167.0 L1828.1 166.9 L1828.1 166.3 L1828.1 166.3 L1828.1 166.7 L1827.9 168.0 L1827.7 170.0 L1827.3 172.6 L1826.8 175.6 L1826.3 178.5 L1825.6 181.6 L1824.8 184.8 L1823.9 188.1 L1822.9 191.5 L1821.9 195.0 L1820.7 198.6 L1819.4 202.1 L1818.0 205.2 L1816.5 208.0 L1815.0 210.5 L1813.3 212.8 L1811.5 215.1 L1809.6 217.3 L1807.7 219.2 L1805.6 221.0 L1803.5 222.6 L1801.3 224.1 L1799.0 225.6 L1796.5 227.0 L1794.1 228.5 L1791.5 230.0 L1788.8 231.5 L1786.1 232.8 L1783.3 234.0 L1780.4 235.1 L1777.4 236.2 L1774.4 237.1 L1771.2 238.1 L1768.1 238.9 L1764.8 239.7 L1761.5 240.5 L1758.1 241.2 L1754.6 241.8 L1751.1 242.4 L1747.6 243.0 L1743.9 243.5 L1740.3 244.0 L1736.5 244.5 L1732.7 245.0 L1728.9 245.4 L1725.0 245.9 L1721.1 246.3 L1717.2 246.7 L1713.2 247.1 L1709.1 247.5 L1705.1 247.9 L1701.0 248.3 L1696.8 248.6 L1692.7 249.0 L1688.5 249.3 L1684.3 249.6 L1680.1 249.9 L1675.8 250.2 L1671.6 250.4 L1667.3 250.6 L1663.1 250.8 L1658.8 251.0 L1654.5 251.2 L1650.2 251.4 L1646.0 251.6 L1641.7 251.8 L1637.4 252.0 L1633.2 252.2 L1628.9 252.4 L1624.7 252.6 L1620.5 252.8 L1616.3 253.0 L1612.1 253.2 L1607.9 253.4 L1603.8 253.7 L1599.7 253.9 L1595.6 254.1 L1591.6 254.3 L1587.6 254.6 L1583.6 254.9 L1579.7 255.2 L1575.8 255.6 L1572.0 256.0 L1568.2 256.4 L1564.5 256.8 L1560.8 257.2 L1557.2 257.6 L1553.6 258.1 L1550.1 258.6 L1546.7 259.1 L1543.3 259.6 L1540.0 260.1 L1536.7 260.6 L1533.5 261.2 L1530.4 261.8 L1527.4 262.3 L1524.4 262.9 L1521.5 263.5 L1518.7 264.1 L1515.9 264.6 L1513.3 265.2 L1510.7 265.8 L1508.2 266.4 L1505.8 266.9 L1503.5 267.5 L1501.3 268.0 L1499.1 268.5 L1497.1 269.0 L1495.1 269.5 L1493.2 269.9 L1491.5 270.3 L1489.8 270.7 L1488.2 271.0 L1486.7 271.4 L1485.4 271.6 L1484.1 271.9 L1482.9 272.1 L1481.8 272.3 L1480.8 272.5 L1480.0 272.7 L1479.2 272.8 L1478.5 272.9 L1477.9 273.0 L1477.5 273.1 L1477.1 273.2 L1476.8 273.2 L1476.7 273.2 L1476.6 273.2 L1476.6 273.2" fill="none" stroke="#ffff00" stroke-width="2.7" stroke-linejoin="round"/>
<path d="M1476.6 281.8 L1476.6 279.3 L1476.7 276.5 L1476.8 268.0 L1477.1 259.6 L1477.5 252.3 L1477.9 248.0 L1478.5 245.7 L1479.2 244.1 L1480.0 242.8 L1480.8 241.4 L1481.8 240.1 L1482.9 239.0 L1484.1 237.9 L1485.4 236.9 L1486.7 235.9 L1488.2 234.8 L1489.8 233.8 L1491.5 232.7 L1493.2 231.7 L1495.1 230.8 L1497.1 229.9 L1499.1 229.2 L1501.3 228.5 L1503.5 227.9 L1505.8 227.3 L1508.2 226.7 L1510.7 226.2 L1513.3 225.8 L1515.9 225.3 L1518.7 225.0 L1521.5 224.7 L1524.4 224.4 L1527.4 224.2 L1530.4 224.0 L1533.5 223.8 L1536.7 223.7 L1540.0 223.5 L1543.3 223.4 L1546.7 223.3 L1550.1 223.2 L1553.6 223.2 L1557.2 223.1 L1560.8 223.0 L1564.5 223.0 L1568.2 223.0 L1572.0 222.9 L1575.8 222.9 L1579.7 222.9 L1583.6 222.8 L1587.6 222.8 L1591.6 222.8 L1595.6 222.7 L1599.7 222.7 L1603.8 222.7 L1607.9 222.6 L1612.1 222.6 L1616.3 222.5 L1620.5 222.5 L1624.7 222.4 L1628.9 222.3 L1633.2 222.2 L1637.4 222.1 L1641.7 222.0 L1646.0 221.8 L1650.2 221.6 L1654.5 221.3 L1658.8 221.0 L1663.1 220.6 L1667.3 220.2 L1671.6 219.7 L1675.8 219.2 L1680.1 218.7 L1684.3 218.1 L1688.5 217.6 L1692.7 217.0 L1696.8 216.5 L1701.0 215.9 L1705.1 215.3 L1709.1 214.7 L1713.2 214.0 L1717.2 213.4 L1721.1 212.7 L1725.0 212.0 L1728.9 211.2 L1732.7 210.5 L1736.5 209.7 L1740.3 208.8 L1743.9 208.0 L1747.6 207.1 L1751.1 206.1 L1754.6 205.1 L1758.1 204.1 L1761.5 203.0 L1764.8 201.9 L1768.1 200.7 L1771.2 199.5 L1774.4 198.3 L1777.4 197.0 L1780.4 195.7 L1783.3 194.3 L1786.1 192.8 L1788.8 191.4 L1791.5 189.9 L1794.1 188.3 L1796.5 186.8 L1799.0 185.3 L1801.3 183.7 L1803.5 182.2 L1805.6 180.5 L1807.7 178.9 L1809.6 177.3 L1811.5 175.6 L1813.3 174.0 L1815.0 172.4 L1816.5 170.8 L1818.0 169.3 L1819.4 167.7 L1820.7 166.2 L1821.9 164.8 L1822.9 163.5 L1823.9 162.4 L1824.8 161.5 L1825.6 160.7 L1826.3 160.0 L1826.8 159.4 L1827.3 158.9 L1827.7 158.6 L1827.9 158.3 L1828.1 158.2 L1828.1 158.1 L1828.1 158.1 L1828.1 161.8 L1827.9 163.4 L1827.7 166.0 L1827.3 169.3 L1826.8 173.0 L1826.3 176.5 L1825.6 180.0 L1824.8 183.6 L1823.9 187.2 L1822.9 190.9 L1821.9 194.6 L1820.7 198.4 L1819.4 202.0 L1818.0 205.2 L1816.5 208.2 L1815.0 210.8 L1813.3 213.3 L1811.5 215.8 L1809.6 218.0 L1807.7 220.1 L1805.6 221.9 L1803.5 223.7 L1801.3 225.3 L1799.0 226.9 L1796.5 228.5 L1794.1 230.1 L1791.5 231.6 L1788.8 233.1 L1786.1 234.5 L1783.3 235.8 L1780.4 236.9 L1777.4 238.0 L1774.4 239.0 L1771.2 239.9 L1768.1 240.8 L1764.8 241.7 L1761.5 242.5 L1758.1 243.2 L1754.6 243.9 L1751.1 244.5 L1747.6 245.1 L1743.9 245.7 L1740.3 246.2 L1736.5 246.7 L1732.7 247.2 L1728.9 247.6 L1725.0 248.1 L1721.1 248.6 L1717.2 249.0 L1713.2 249.4 L1709.1 249.9 L1705.1 250.3 L1701.0 250.7 L1696.8 251.1 L1692.7 251.4 L1688.5 251.8 L1684.3 252.1 L1680.1 252.5 L1675.8 252.7 L1671.6 253.0 L1667.3 253.3 L1663.1 253.5 L1658.8 253.7 L1654.5 254.0 L1650.2 254.2 L1646.0 254.4 L1641.7 254.7 L1637.4 254.9 L1633.2 255.2 L1628.9 255.5 L1624.7 255.7 L1620.5 255.9 L1616.3 256.2 L1612.1 256.4 L1607.9 256.7 L1603.8 256.9 L1599.7 257.2 L1595.6 257.4 L1591.6 257.7 L1587.6 258.0 L1583.6 258.4 L1579.7 258.8 L1575.8 259.3 L1572.0 259.8 L1568.2 260.3 L1564.5 260.8 L1560.8 261.3 L1557.2 261.9 L1553.6 262.5 L1550.1 263.1 L1546.7 263.8 L1543.3 264.4 L1540.0 265.1 L1536.7 265.8 L1533.5 266.5 L1530.4 267.2 L1527.4 267.9 L1524.4 268.6 L1521.5 269.4 L1518.7 270.1 L1515.9 270.8 L1513.3 271.6 L1510.7 272.3 L1508.2 273.0 L1505.8 273.7 L1503.5 274.4 L1501.3 275.1 L1499.1 275.7 L1497.1 276.3 L1495.1 276.9 L1493.2 277.5 L1491.5 278.0 L1489.8 278.5 L1488.2 278.9 L1486.7 279.4 L1485.4 279.7 L1484.1 280.1 L1482.9 280.4 L1481.8 280.6 L1480.8 280.9 L1480.0 281.1 L1479.2 281.3 L1478.5 281.4 L1477.9 281.5 L1477.5 281.6 L1477.1 281.7 L1476.8 281.8 L1476.7 281.8 L1476.6 281.8 L1476.6 281.8" fill="none" stroke="#22ee00" stroke-width="2.7" stroke-linejoin="round"/>
<path d="M1476.6 296.6 L1476.6 294.0 L1476.7 289.8 L1476.8 277.5 L1477.1 265.4 L1477.5 254.7 L1477.9 248.7 L1478.5 245.9 L1479.2 244.0 L1480.0 242.3 L1480.8 240.4 L1481.8 238.7 L1482.9 237.1 L1484.1 235.6 L1485.4 234.2 L1486.7 232.8 L1488.2 231.5 L1489.8 230.1 L1491.5 228.8 L1493.2 227.5 L1495.1 226.4 L1497.1 225.3 L1499.1 224.4 L1501.3 223.6 L1503.5 222.8 L1505.8 222.1 L1508.2 221.4 L1510.7 220.8 L1513.3 220.2 L1515.9 219.7 L1518.7 219.2 L1521.5 218.9 L1524.4 218.5 L1527.4 218.2 L1530.4 218.0 L1533.5 217.8 L1536.7 217.5 L1540.0 217.4 L1543.3 217.2 L1546.7 217.1 L1550.1 216.9 L1553.6 216.8 L1557.2 216.8 L1560.8 216.7 L1564.5 216.6 L1568.2 216.6 L1572.0 216.5 L1575.8 216.5 L1579.7 216.5 L1583.6 216.5 L1587.6 216.4 L1591.6 216.4 L1595.6 216.4 L1599.7 216.4 L1603.8 216.4 L1607.9 216.3 L1612.1 216.3 L1616.3 216.3 L1620.5 216.2 L1624.7 216.2 L1628.9 216.2 L1633.2 216.1 L1637.4 216.1 L1641.7 216.0 L1646.0 215.8 L1650.2 215.6 L1654.5 215.3 L1658.8 215.0 L1663.1 214.6 L1667.3 214.1 L1671.6 213.6 L1675.8 213.1 L1680.1 212.6 L1684.3 212.0 L1688.5 211.5 L1692.7 211.0 L1696.8 210.4 L1701.0 209.8 L1705.1 209.3 L1709.1 208.7 L1713.2 208.1 L1717.2 207.5 L1721.1 206.8 L1725.0 206.1 L1728.9 205.4 L1732.7 204.7 L1736.5 203.9 L1740.3 203.1 L1743.9 202.3 L1747.6 201.4 L1751.1 200.5 L1754.6 199.5 L1758.1 198.5 L1761.5 197.4 L1764.8 196.3 L1768.1 195.1 L1771.2 193.9 L1774.4 192.7 L1777.4 191.3 L1780.4 190.0 L1783.3 188.6 L1786.1 187.1 L1788.8 185.5 L1791.5 183.9 L1794.1 182.3 L1796.5 180.6 L1799.0 179.0 L1801.3 177.3 L1803.5 175.6 L1805.6 173.8 L1807.7 172.0 L1809.6 170.2 L1811.5 168.3 L1813.3 166.4 L1815.0 164.5 L1816.5 162.7 L1818.0 160.9 L1819.4 159.2 L1820.7 157.4 L1821.9 155.7 L1822.9 154.2 L1823.9 152.9 L1824.8 151.8 L1825.6 150.8 L1826.3 150.0 L1826.8 149.3 L1827.3 148.7 L1827.7 148.3 L1827.9 148.0 L1828.1 147.8 L1828.1 147.8 L1828.1 147.8 L1828.1 151.5 L1827.9 153.8 L1827.7 157.6 L1827.3 162.5 L1826.8 167.6 L1826.3 172.2 L1825.6 176.7 L1824.8 181.1 L1823.9 185.4 L1822.9 189.6 L1821.9 193.7 L1820.7 197.8 L1819.4 201.7 L1818.0 205.3 L1816.5 208.6 L1815.0 211.6 L1813.3 214.4 L1811.5 217.1 L1809.6 219.6 L1807.7 221.9 L1805.6 224.0 L1803.5 226.0 L1801.3 227.9 L1799.0 229.7 L1796.5 231.5 L1794.1 233.2 L1791.5 234.9 L1788.8 236.6 L1786.1 238.1 L1783.3 239.4 L1780.4 240.6 L1777.4 241.8 L1774.4 242.9 L1771.2 243.9 L1768.1 244.8 L1764.8 245.8 L1761.5 246.6 L1758.1 247.4 L1754.6 248.1 L1751.1 248.8 L1747.6 249.5 L1743.9 250.1 L1740.3 250.7 L1736.5 251.2 L1732.7 251.8 L1728.9 252.3 L1725.0 252.8 L1721.1 253.3 L1717.2 253.8 L1713.2 254.2 L1709.1 254.7 L1705.1 255.2 L1701.0 255.7 L1696.8 256.1 L1692.7 256.6 L1688.5 257.0 L1684.3 257.4 L1680.1 257.8 L1675.8 258.1 L1671.6 258.5 L1667.3 258.8 L1663.1 259.1 L1658.8 259.4 L1654.5 259.8 L1650.2 260.1 L1646.0 260.5 L1641.7 260.8 L1637.4 261.2 L1633.2 261.5 L1628.9 261.8 L1624.7 262.1 L1620.5 262.5 L1616.3 262.8 L1612.1 263.1 L1607.9 263.4 L1603.8 263.7 L1599.7 264.0 L1595.6 264.4 L1591.6 264.8 L1587.6 265.2 L1583.6 265.7 L1579.7 266.3 L1575.8 266.9 L1572.0 267.5 L1568.2 268.2 L1564.5 268.9 L1560.8 269.6 L1557.2 270.4 L1553.6 271.2 L1550.1 272.0 L1546.7 272.9 L1543.3 273.8 L1540.0 274.6 L1536.7 275.5 L1533.5 276.5 L1530.4 277.4 L1527.4 278.3 L1524.4 279.3 L1521.5 280.3 L1518.7 281.2 L1515.9 282.2 L1513.3 283.2 L1510.7 284.1 L1508.2 285.0 L1505.8 286.0 L1503.5 286.9 L1501.3 287.7 L1499.1 288.6 L1497.1 289.4 L1495.1 290.2 L1493.2 290.9 L1491.5 291.6 L1489.8 292.3 L1488.2 292.9 L1486.7 293.4 L1485.4 293.9 L1484.1 294.4 L1482.9 294.8 L1481.8 295.1 L1480.8 295.4 L1480.0 295.7 L1479.2 295.9 L1478.5 296.1 L1477.9 296.3 L1477.5 296.4 L1477.1 296.5 L1476.8 296.6 L1476.7 296.6 L1476.6 296.6 L1476.6 296.6" fill="none" stroke="#00ffff" stroke-width="2.7" stroke-linejoin="round"/>
<path d="M1476.6 310.8 L1476.6 308.9 L1476.7 303.5 L1476.8 287.2 L1477.1 271.4 L1477.5 257.1 L1477.9 249.4 L1478.5 246.1 L1479.2 243.9 L1480.0 241.8 L1480.8 239.4 L1481.8 237.2 L1482.9 235.2 L1484.1 233.3 L1485.4 231.5 L1486.7 229.8 L1488.2 228.1 L1489.8 226.4 L1491.5 224.8 L1493.2 223.2 L1495.1 221.9 L1497.1 220.7 L1499.1 219.6 L1501.3 218.6 L1503.5 217.6 L1505.8 216.8 L1508.2 215.9 L1510.7 215.2 L1513.3 214.6 L1515.9 214.0 L1518.7 213.4 L1521.5 213.0 L1524.4 212.6 L1527.4 212.2 L1530.4 211.8 L1533.5 211.6 L1536.7 211.3 L1540.0 211.1 L1543.3 210.9 L1546.7 210.7 L1550.1 210.5 L1553.6 210.4 L1557.2 210.3 L1560.8 210.2 L1564.5 210.1 L1568.2 210.1 L1572.0 210.0 L1575.8 210.0 L1579.7 210.0 L1583.6 210.0 L1587.6 210.0 L1591.6 210.0 L1595.6 209.9 L1599.7 209.9 L1603.8 209.9 L1607.9 209.9 L1612.1 209.9 L1616.3 209.9 L1620.5 209.9 L1624.7 209.9 L1628.9 209.9 L1633.2 209.9 L1637.4 209.9 L1641.7 209.8 L1646.0 209.7 L1650.2 209.5 L1654.5 209.2 L1658.8 208.8 L1663.1 208.4 L1667.3 207.9 L1671.6 207.4 L1675.8 206.9 L1680.1 206.4 L1684.3 205.8 L1688.5 205.3 L1692.7 204.8 L1696.8 204.2 L1701.0 203.7 L1705.1 203.1 L1709.1 202.6 L1713.2 202.0 L1717.2 201.4 L1721.1 200.8 L1725.0 200.2 L1728.9 199.5 L1732.7 198.8 L1736.5 198.1 L1740.3 197.3 L1743.9 196.5 L1747.6 195.6 L1751.1 194.7 L1754.6 193.8 L1758.1 192.8 L1761.5 191.7 L1764.8 190.6 L1768.1 189.4 L1771.2 188.2 L1774.4 186.9 L1777.4 185.6 L1780.4 184.2 L1783.3 182.7 L1786.1 181.2 L1788.8 179.6 L1791.5 177.8 L1794.1 176.1 L1796.5 174.3 L1799.0 172.5 L1801.3 170.7 L1803.5 168.9 L1805.6 167.0 L1807.7 165.0 L1809.6 162.9 L1811.5 160.8 L1813.3 158.7 L1815.0 156.6 L1816.5 154.5 L1818.0 152.5 L1819.4 150.4 L1820.7 148.3 L1821.9 146.4 L1822.9 144.6 L1823.9 143.1 L1824.8 141.8 L1825.6 140.7 L1826.3 139.8 L1826.8 139.0 L1827.3 138.3 L1827.7 137.8 L1827.9 137.5 L1828.1 137.3 L1828.1 137.2 L1828.1 137.2 L1828.1 139.7 L1827.9 142.9 L1827.7 148.0 L1827.3 154.6 L1826.8 161.4 L1826.3 167.3 L1825.6 172.9 L1824.8 178.3 L1823.9 183.3 L1822.9 188.1 L1821.9 192.7 L1820.7 197.2 L1819.4 201.4 L1818.0 205.3 L1816.5 209.0 L1815.0 212.5 L1813.3 215.6 L1811.5 218.6 L1809.6 221.4 L1807.7 224.0 L1805.6 226.4 L1803.5 228.6 L1801.3 230.8 L1799.0 232.9 L1796.5 234.9 L1794.1 236.8 L1791.5 238.7 L1788.8 240.5 L1786.1 242.2 L1783.3 243.6 L1780.4 244.9 L1777.4 246.1 L1774.4 247.3 L1771.2 248.4 L1768.1 249.4 L1764.8 250.4 L1761.5 251.3 L1758.1 252.2 L1754.6 253.0 L1751.1 253.7 L1747.6 254.5 L1743.9 255.1 L1740.3 255.8 L1736.5 256.4 L1732.7 257.0 L1728.9 257.6 L1725.0 258.1 L1721.1 258.7 L1717.2 259.2 L1713.2 259.7 L1709.1 260.3 L1705.1 260.8 L1701.0 261.3 L1696.8 261.9 L1692.7 262.4 L1688.5 262.9 L1684.3 263.4 L1680.1 263.8 L1675.8 264.3 L1671.6 264.7 L1667.3 265.1 L1663.1 265.5 L1658.8 265.9 L1654.5 266.4 L1650.2 266.8 L1646.0 267.3 L1641.7 267.8 L1637.4 268.2 L1633.2 268.7 L1628.9 269.1 L1624.7 269.5 L1620.5 269.9 L1616.3 270.2 L1612.1 270.6 L1607.9 271.0 L1603.8 271.4 L1599.7 271.9 L1595.6 272.3 L1591.6 272.8 L1587.6 273.4 L1583.6 274.0 L1579.7 274.6 L1575.8 275.4 L1572.0 276.1 L1568.2 276.9 L1564.5 277.8 L1560.8 278.7 L1557.2 279.6 L1553.6 280.6 L1550.1 281.6 L1546.7 282.6 L1543.3 283.7 L1540.0 284.8 L1536.7 285.8 L1533.5 286.9 L1530.4 288.1 L1527.4 289.2 L1524.4 290.3 L1521.5 291.5 L1518.7 292.6 L1515.9 293.8 L1513.3 294.9 L1510.7 296.1 L1508.2 297.2 L1505.8 298.3 L1503.5 299.3 L1501.3 300.4 L1499.1 301.4 L1497.1 302.4 L1495.1 303.3 L1493.2 304.1 L1491.5 305.0 L1489.8 305.7 L1488.2 306.4 L1486.7 307.1 L1485.4 307.7 L1484.1 308.2 L1482.9 308.7 L1481.8 309.1 L1480.8 309.4 L1480.0 309.7 L1479.2 310.0 L1478.5 310.2 L1477.9 310.4 L1477.5 310.6 L1477.1 310.7 L1476.8 310.8 L1476.7 310.8 L1476.6 310.8 L1476.6 310.8" fill="none" stroke="#5500ff" stroke-width="2.7" stroke-linejoin="round"/>
<path d="M1476.6 323.5 L1476.6 323.5 L1476.7 316.8 L1476.8 296.7 L1477.1 277.2 L1477.5 259.6 L1477.9 250.2 L1478.5 246.3 L1479.2 243.7 L1480.0 241.2 L1480.8 238.4 L1481.8 235.8 L1482.9 233.4 L1484.1 231.1 L1485.4 228.9 L1486.7 226.8 L1488.2 224.7 L1489.8 222.8 L1491.5 220.8 L1493.2 219.1 L1495.1 217.5 L1497.1 216.1 L1499.1 214.9 L1501.3 213.7 L1503.5 212.6 L1505.8 211.6 L1508.2 210.6 L1510.7 209.8 L1513.3 209.0 L1515.9 208.4 L1518.7 207.8 L1521.5 207.2 L1524.4 206.7 L1527.4 206.3 L1530.4 205.9 L1533.5 205.5 L1536.7 205.2 L1540.0 204.9 L1543.3 204.7 L1546.7 204.5 L1550.1 204.3 L1553.6 204.1 L1557.2 204.0 L1560.8 203.9 L1564.5 203.8 L1568.2 203.7 L1572.0 203.7 L1575.8 203.7 L1579.7 203.6 L1583.6 203.6 L1587.6 203.6 L1591.6 203.6 L1595.6 203.6 L1599.7 203.6 L1603.8 203.7 L1607.9 203.7 L1612.1 203.7 L1616.3 203.7 L1620.5 203.7 L1624.7 203.7 L1628.9 203.8 L1633.2 203.8 L1637.4 203.8 L1641.7 203.8 L1646.0 203.7 L1650.2 203.5 L1654.5 203.2 L1658.8 202.8 L1663.1 202.4 L1667.3 201.9 L1671.6 201.4 L1675.8 200.8 L1680.1 200.3 L1684.3 199.8 L1688.5 199.2 L1692.7 198.7 L1696.8 198.2 L1701.0 197.7 L1705.1 197.1 L1709.1 196.6 L1713.2 196.1 L1717.2 195.5 L1721.1 195.0 L1725.0 194.4 L1728.9 193.8 L1732.7 193.1 L1736.5 192.4 L1740.3 191.6 L1743.9 190.8 L1747.6 190.0 L1751.1 189.1 L1754.6 188.2 L1758.1 187.2 L1761.5 186.1 L1764.8 185.0 L1768.1 183.9 L1771.2 182.6 L1774.4 181.3 L1777.4 180.0 L1780.4 178.5 L1783.3 177.0 L1786.1 175.4 L1788.8 173.7 L1791.5 171.9 L1794.1 170.0 L1796.5 168.1 L1799.0 166.2 L1801.3 164.3 L1803.5 162.3 L1805.6 160.3 L1807.7 158.1 L1809.6 155.9 L1811.5 153.5 L1813.3 151.2 L1815.0 148.8 L1816.5 146.4 L1818.0 144.2 L1819.4 141.9 L1820.7 139.5 L1821.9 137.3 L1822.9 135.3 L1823.9 133.6 L1824.8 132.2 L1825.6 130.9 L1826.3 129.8 L1826.8 128.9 L1827.3 128.2 L1827.7 127.6 L1827.9 127.2 L1828.1 127.0 L1828.1 126.9 L1828.1 126.9 L1828.1 128.2 L1827.9 132.2 L1827.7 138.7 L1827.3 147.0 L1826.8 155.4 L1826.3 162.5 L1825.6 169.2 L1824.8 175.5 L1823.9 181.2 L1822.9 186.6 L1821.9 191.8 L1820.7 196.6 L1819.4 201.1 L1818.0 205.4 L1816.5 209.5 L1815.0 213.3 L1813.3 216.8 L1811.5 220.1 L1809.6 223.2 L1807.7 226.0 L1805.6 228.7 L1803.5 231.2 L1801.3 233.6 L1799.0 236.0 L1796.5 238.3 L1794.1 240.4 L1791.5 242.4 L1788.8 244.4 L1786.1 246.1 L1783.3 247.7 L1780.4 249.0 L1777.4 250.3 L1774.4 251.6 L1771.2 252.8 L1768.1 253.9 L1764.8 254.9 L1761.5 255.9 L1758.1 256.8 L1754.6 257.7 L1751.1 258.5 L1747.6 259.3 L1743.9 260.1 L1740.3 260.8 L1736.5 261.5 L1732.7 262.1 L1728.9 262.7 L1725.0 263.3 L1721.1 263.9 L1717.2 264.5 L1713.2 265.1 L1709.1 265.7 L1705.1 266.3 L1701.0 266.9 L1696.8 267.5 L1692.7 268.1 L1688.5 268.7 L1684.3 269.2 L1680.1 269.8 L1675.8 270.3 L1671.6 270.8 L1667.3 271.3 L1663.1 271.8 L1658.8 272.3 L1654.5 272.9 L1650.2 273.4 L1646.0 274.0 L1641.7 274.6 L1637.4 275.2 L1633.2 275.7 L1628.9 276.2 L1624.7 276.7 L1620.5 277.2 L1616.3 277.6 L1612.1 278.0 L1607.9 278.5 L1603.8 279.0 L1599.7 279.5 L1595.6 280.1 L1591.6 280.7 L1587.6 281.3 L1583.6 282.0 L1579.7 282.8 L1575.8 283.6 L1572.0 284.4 L1568.2 285.3 L1564.5 286.3 L1560.8 287.3 L1557.2 288.4 L1553.6 289.5 L1550.1 290.6 L1546.7 291.7 L1543.3 292.9 L1540.0 294.1 L1536.7 295.3 L1533.5 296.5 L1530.4 297.8 L1527.4 299.0 L1524.4 300.3 L1521.5 301.6 L1518.7 302.9 L1515.9 304.1 L1513.3 305.4 L1510.7 306.6 L1508.2 307.9 L1505.8 309.1 L1503.5 310.3 L1501.3 311.4 L1499.1 312.5 L1497.1 313.6 L1495.1 314.6 L1493.2 315.5 L1491.5 316.4 L1489.8 317.3 L1488.2 318.0 L1486.7 318.7 L1485.4 319.3 L1484.1 319.9 L1482.9 320.4 L1481.8 320.9 L1480.8 321.2 L1480.0 321.6 L1479.2 321.9 L1478.5 322.1 L1477.9 322.3 L1477.5 322.4 L1477.1 322.6 L1476.8 322.6 L1476.7 322.7 L1476.6 322.7 L1476.6 323.5" fill="none" stroke="#000000" stroke-width="2.7" stroke-linejoin="round"/>
<rect x="1476.00" y="76.90" width="385.80" height="329.90" fill="none" stroke="#000" stroke-width="1.75"/>
<line x1="1462.00" y1="76.90" x2="1476.00" y2="76.90" stroke="#000" stroke-width="1.75"/>
<text transform="translate(1453.60 85.50) scale(0.935 1)" font-size="29.2" text-anchor="end">10</text>
<line x1="1462.00" y1="159.38" x2="1476.00" y2="159.38" stroke="#000" stroke-width="1.75"/>
<text transform="translate(1453.60 167.97) scale(0.935 1)" font-size="29.2" text-anchor="end">5</text>
<line x1="1462.00" y1="241.85" x2="1476.00" y2="241.85" stroke="#000" stroke-width="1.75"/>
<text transform="translate(1453.60 250.45) scale(0.935 1)" font-size="29.2" text-anchor="end">0</text>
<line x1="1462.00" y1="324.32" x2="1476.00" y2="324.32" stroke="#000" stroke-width="1.75"/>
<text transform="translate(1453.60 332.93) scale(0.935 1)" font-size="29.2" text-anchor="end">-5</text>
<line x1="1462.00" y1="406.80" x2="1476.00" y2="406.80" stroke="#000" stroke-width="1.75"/>
<text transform="translate(1453.60 415.40) scale(0.935 1)" font-size="29.2" text-anchor="end">-10</text>
<line x1="1476.00" y1="406.80" x2="1476.00" y2="420.80" stroke="#000" stroke-width="1.75"/>
<text transform="translate(1476.00 453.90) scale(0.935 1)" font-size="29.2" text-anchor="middle">0.0</text>
<line x1="1540.30" y1="406.80" x2="1540.30" y2="420.80" stroke="#000" stroke-width="1.75"/>
<text transform="translate(1540.30 453.90) scale(0.935 1)" font-size="29.2" text-anchor="middle">0.2</text>
<line x1="1604.60" y1="406.80" x2="1604.60" y2="420.80" stroke="#000" stroke-width="1.75"/>
<text transform="translate(1604.60 453.90) scale(0.935 1)" font-size="29.2" text-anchor="middle">0.4</text>
<line x1="1668.90" y1="406.80" x2="1668.90" y2="420.80" stroke="#000" stroke-width="1.75"/>
<text transform="translate(1668.90 453.90) scale(0.935 1)" font-size="29.2" text-anchor="middle">0.6</text>
<line x1="1733.20" y1="406.80" x2="1733.20" y2="420.80" stroke="#000" stroke-width="1.75"/>
<text transform="translate(1733.20 453.90) scale(0.935 1)" font-size="29.2" text-anchor="middle">0.8</text>
<line x1="1797.50" y1="406.80" x2="1797.50" y2="420.80" stroke="#000" stroke-width="1.75"/>
<text transform="translate(1797.50 453.90) scale(0.935 1)" font-size="29.2" text-anchor="middle">1.0</text>
<line x1="1861.80" y1="406.80" x2="1861.80" y2="420.80" stroke="#000" stroke-width="1.75"/>
<text transform="translate(1861.80 453.90) scale(0.935 1)" font-size="29.2" text-anchor="middle">1.2</text>
<text x="1499.00" y="125.60" font-size="39.6" text-anchor="start">VP</text>
<text x="1334.00" y="64.00" font-size="84" text-anchor="start">C</text>
<text transform="translate(1376.50 242.30) rotate(-90) scale(0.945 1)" font-size="41.2" text-anchor="middle">Current (µA)</text>
<text transform="translate(1439.50 504.00) scale(0.94 1)" font-size="41.7" text-anchor="start">Potential  (V vs Ag/AgCl)</text>
<line x1="1605.20" y1="315.60" x2="1623.70" y2="315.60" stroke="#ff0000" stroke-width="2.6"/>
<text transform="translate(1631.50 321.00) scale(0.935 1)" font-size="20.5" text-anchor="start">30 mV/s</text>
<line x1="1605.20" y1="338.10" x2="1623.70" y2="338.10" stroke="#ff9900" stroke-width="2.6"/>
<text transform="translate(1631.50 343.50) scale(0.935 1)" font-size="20.5" text-anchor="start">50 mV/s</text>
<line x1="1605.20" y1="360.60" x2="1623.70" y2="360.60" stroke="#ffff00" stroke-width="2.6"/>
<text transform="translate(1631.50 366.00) scale(0.935 1)" font-size="20.5" text-anchor="start">75 mV/s</text>
<line x1="1605.20" y1="383.10" x2="1623.70" y2="383.10" stroke="#22ee00" stroke-width="2.6"/>
<text transform="translate(1631.50 388.50) scale(0.935 1)" font-size="20.5" text-anchor="start">100 mV/s</text>
<line x1="1745.70" y1="315.60" x2="1764.20" y2="315.60" stroke="#00ffff" stroke-width="2.6"/>
<text transform="translate(1771.90 321.00) scale(0.935 1)" font-size="20.5" text-anchor="start">150 mV/s</text>
<line x1="1745.70" y1="338.10" x2="1764.20" y2="338.10" stroke="#5500ff" stroke-width="2.6"/>
<text transform="translate(1771.90 343.50) scale(0.935 1)" font-size="20.5" text-anchor="start">200 mV/s</text>
<line x1="1745.70" y1="360.60" x2="1764.20" y2="360.60" stroke="#000000" stroke-width="2.6"/>
<text transform="translate(1771.90 366.00) scale(0.935 1)" font-size="20.5" text-anchor="start">250 mV/s</text>
</g>
<g id="panel-D">
<rect x="154.30" y="631.60" width="374.10" height="324.20" fill="none" stroke="#000" stroke-width="1.75"/>
<line x1="140.30" y1="631.60" x2="155.80" y2="631.60" stroke="#000" stroke-width="1.75"/>
<text transform="translate(132.80 640.80) scale(0.935 1)" font-size="29.2" text-anchor="end">250</text>
<line x1="140.30" y1="696.44" x2="155.80" y2="696.44" stroke="#000" stroke-width="1.75"/>
<text transform="translate(132.80 705.64) scale(0.935 1)" font-size="29.2" text-anchor="end">200</text>
<line x1="140.30" y1="761.28" x2="155.80" y2="761.28" stroke="#000" stroke-width="1.75"/>
<text transform="translate(132.80 770.48) scale(0.935 1)" font-size="29.2" text-anchor="end">150</text>
<line x1="140.30" y1="826.12" x2="155.80" y2="826.12" stroke="#000" stroke-width="1.75"/>
<text transform="translate(132.80 835.32) scale(0.935 1)" font-size="29.2" text-anchor="end">100</text>
<line x1="140.30" y1="890.96" x2="155.80" y2="890.96" stroke="#000" stroke-width="1.75"/>
<text transform="translate(132.80 900.16) scale(0.935 1)" font-size="29.2" text-anchor="end">50</text>
<line x1="140.30" y1="955.80" x2="155.80" y2="955.80" stroke="#000" stroke-width="1.75"/>
<text transform="translate(132.80 965.00) scale(0.935 1)" font-size="29.2" text-anchor="end">0</text>
<line x1="154.30" y1="955.80" x2="154.30" y2="969.80" stroke="#000" stroke-width="1.75"/>
<text transform="translate(154.30 1003.50) scale(0.935 1)" font-size="29.2" text-anchor="middle">0</text>
<line x1="229.12" y1="955.80" x2="229.12" y2="969.80" stroke="#000" stroke-width="1.75"/>
<text transform="translate(229.12 1003.50) scale(0.935 1)" font-size="29.2" text-anchor="middle">20</text>
<line x1="303.94" y1="955.80" x2="303.94" y2="969.80" stroke="#000" stroke-width="1.75"/>
<text transform="translate(303.94 1003.50) scale(0.935 1)" font-size="29.2" text-anchor="middle">40</text>
<line x1="378.76" y1="955.80" x2="378.76" y2="969.80" stroke="#000" stroke-width="1.75"/>
<text transform="translate(378.76 1003.50) scale(0.935 1)" font-size="29.2" text-anchor="middle">60</text>
<line x1="453.58" y1="955.80" x2="453.58" y2="969.80" stroke="#000" stroke-width="1.75"/>
<text transform="translate(453.58 1003.50) scale(0.935 1)" font-size="29.2" text-anchor="middle">80</text>
<line x1="528.40" y1="955.80" x2="528.40" y2="969.80" stroke="#000" stroke-width="1.75"/>
<text transform="translate(528.40 1003.50) scale(0.935 1)" font-size="29.2" text-anchor="middle">100</text>
<circle cx="158.9" cy="956.8" r="9.2" fill="#ffa500"/>
<circle cx="160.0" cy="954.7" r="9.2" fill="#ffa500"/>
<circle cx="163.2" cy="947.4" r="9.2" fill="#ffa500"/>
<circle cx="167.4" cy="938.9" r="9.2" fill="#ffa500"/>
<circle cx="171.6" cy="929.5" r="9.2" fill="#ffa500"/>
<circle cx="175.8" cy="921.1" r="9.2" fill="#ffa500"/>
<circle cx="180.0" cy="912.6" r="9.2" fill="#ffa500"/>
<circle cx="185.3" cy="903.2" r="9.2" fill="#ffa500"/>
<circle cx="191.6" cy="892.6" r="9.2" fill="#ffa500"/>
<circle cx="198.9" cy="881.1" r="9.2" fill="#ffa500"/>
<circle cx="208.8" cy="866.3" r="9.2" fill="#ffa500"/>
<circle cx="221.1" cy="849.5" r="9.2" fill="#ffa500"/>
<circle cx="236.8" cy="830.9" r="9.2" fill="#ffa500"/>
<circle cx="257.5" cy="809.5" r="9.2" fill="#ffa500"/>
<circle cx="283.8" cy="783.2" r="9.2" fill="#ffa500"/>
<circle cx="318.1" cy="753.1" r="9.2" fill="#ffa500"/>
<circle cx="361.1" cy="719.4" r="9.2" fill="#ffa500"/>
<circle cx="415.4" cy="680.0" r="9.2" fill="#ffa500"/>
<circle cx="486.9" cy="635.2" r="9.2" fill="#ffa500"/>
<path d="M506.3 631.6 L504.3 633.0 L502.4 634.4 L500.4 635.8 L498.4 637.2 L496.4 638.6 L494.4 640.0 L492.4 641.4 L490.4 642.8 L488.4 644.1 L486.4 645.5 L484.4 646.9 L482.4 648.2 L480.4 649.6 L478.4 650.9 L476.3 652.2 L474.3 653.6 L472.3 654.9 L470.3 656.3 L468.3 657.6 L466.3 659.0 L464.3 660.4 L462.3 661.8 L460.3 663.2 L458.4 664.7 L456.4 666.1 L454.5 667.5 L452.5 669.0 L450.5 670.4 L448.6 671.8 L446.6 673.2 L444.6 674.6 L442.6 675.9 L440.5 677.2 L438.5 678.6 L436.5 679.9 L434.4 681.3 L432.4 682.6 L430.4 683.9 L428.4 685.3 L426.4 686.6 L424.4 688.0 L422.3 689.4 L420.3 690.7 L418.3 692.1 L416.3 693.5 L414.3 694.9 L412.4 696.3 L410.4 697.7 L408.5 699.2 L406.5 700.6 L404.6 702.1 L402.7 703.6 L400.8 705.1 L398.9 706.7 L397.0 708.2 L395.1 709.7 L393.2 711.1 L391.3 712.6 L389.3 714.1 L387.4 715.6 L385.5 717.0 L383.5 718.5 L381.6 719.9 L379.6 721.4 L377.7 722.8 L375.7 724.3 L373.8 725.7 L371.8 727.1 L369.8 728.5 L367.8 729.9 L365.9 731.3 L363.9 732.8 L361.9 734.2 L360.0 735.6 L358.0 737.0 L356.1 738.5 L354.1 739.9 L352.2 741.4 L350.2 742.9 L348.3 744.4 L346.4 745.8 L344.5 747.3 L342.6 748.8 L340.7 750.4 L338.8 751.9 L336.9 753.4 L335.1 755.0 L333.2 756.6 L331.4 758.2 L329.6 759.8 L327.8 761.4 L326.0 763.0 L324.2 764.6 L322.3 766.2 L320.5 767.8 L318.7 769.4 L316.9 771.0 L315.0 772.6 L313.2 774.2 L311.4 775.8 L309.6 777.4 L307.7 779.0 L305.9 780.6 L304.1 782.2 L302.2 783.8 L300.4 785.4 L298.6 787.0 L296.7 788.6 L294.9 790.1 L293.0 791.7 L291.2 793.3 L289.4 795.0 L287.6 796.6 L285.9 798.3 L284.1 800.0 L282.4 801.7 L280.7 803.4 L279.0 805.2 L277.3 806.9 L275.6 808.7 L273.9 810.4 L272.2 812.1 L270.5 813.8 L268.7 815.4 L266.9 817.0 L265.1 818.6 L263.2 820.2 L261.4 821.8 L259.5 823.4 L257.7 825.0 L255.9 826.6 L254.0 828.1 L252.2 829.7 L250.3 831.3 L248.5 832.9 L246.7 834.5 L244.8 836.0 L243.0 837.6 L241.1 839.2 L239.3 840.8 L237.4 842.3 L235.6 843.9 L233.7 845.5 L231.8 847.0 L230.0 848.6 L228.1 850.2 L226.3 851.8 L224.5 853.4 L222.7 855.0 L221.0 856.7 L219.2 858.4 L217.5 860.1 L215.7 861.8 L214.0 863.5 L212.4 865.3 L210.7 867.1 L209.1 868.9 L207.5 870.7 L205.9 872.5 L204.3 874.4 L202.8 876.2 L201.2 878.1 L199.7 880.0 L198.2 881.9 L196.7 883.9 L195.3 885.8 L193.9 887.8 L192.4 889.7 L191.0 891.7 L189.7 893.7 L188.3 895.7 L186.9 897.7 L185.6 899.8 L184.3 901.8 L183.0 903.9 L181.7 905.9 L180.5 908.0 L179.3 910.1 L178.1 912.3 L177.0 914.4 L175.9 916.5 L174.8 918.7 L173.8 920.9 L172.8 923.1 L171.8 925.4 L170.9 927.6 L169.9 929.8 L168.9 932.1 L168.0 934.3 L167.0 936.6 L166.1 938.8 L165.2 941.0 L164.3 943.3 L163.3 945.5 L162.4 947.8 L161.6 950.0 L160.7 952.3 L159.8 954.6 L158.9 956.8" fill="none" stroke="#000" stroke-width="4.6" stroke-linejoin="round" stroke-dasharray="11 9.5"/>
<text transform="translate(169.50 673.60) scale(0.99 1)" font-size="39.5" text-anchor="start">HPSS</text>
<text x="4.00" y="623.40" font-size="84" text-anchor="start">D</text>
<text transform="translate(49.00 792.60) rotate(-90) scale(0.972 1)" font-size="40" text-anchor="middle">-Z" (kOhm)</text>
<text transform="translate(340.80 1061.30) scale(0.93 1)" font-size="42" text-anchor="middle">Z' (kOhm)</text>
<circle cx="302.5" cy="894.7" r="11.8" fill="#ffa500"/>
<text transform="translate(345.50 903.20) scale(0.955 1)" font-size="32.5" text-anchor="start">experiment</text>
<text transform="translate(345.50 937.90) scale(0.955 1)" font-size="32.5" text-anchor="start">fitting</text>
<line x1="270.50" y1="929.90" x2="327.40" y2="929.90" stroke="#000" stroke-width="4.6" stroke-dasharray="11 11.5"/>
</g>
<g id="panel-E">
<rect x="813.60" y="631.10" width="374.40" height="323.70" fill="none" stroke="#000" stroke-width="1.75"/>
<line x1="799.60" y1="631.10" x2="815.10" y2="631.10" stroke="#000" stroke-width="1.75"/>
<text transform="translate(792.00 640.30) scale(0.935 1)" font-size="29.2" text-anchor="end">250</text>
<line x1="799.60" y1="695.84" x2="815.10" y2="695.84" stroke="#000" stroke-width="1.75"/>
<text transform="translate(792.00 705.04) scale(0.935 1)" font-size="29.2" text-anchor="end">200</text>
<line x1="799.60" y1="760.58" x2="815.10" y2="760.58" stroke="#000" stroke-width="1.75"/>
<text transform="translate(792.00 769.78) scale(0.935 1)" font-size="29.2" text-anchor="end">150</text>
<line x1="799.60" y1="825.32" x2="815.10" y2="825.32" stroke="#000" stroke-width="1.75"/>
<text transform="translate(792.00 834.52) scale(0.935 1)" font-size="29.2" text-anchor="end">100</text>
<line x1="799.60" y1="890.06" x2="815.10" y2="890.06" stroke="#000" stroke-width="1.75"/>
<text transform="translate(792.00 899.26) scale(0.935 1)" font-size="29.2" text-anchor="end">50</text>
<line x1="799.60" y1="954.80" x2="815.10" y2="954.80" stroke="#000" stroke-width="1.75"/>
<text transform="translate(792.00 964.00) scale(0.935 1)" font-size="29.2" text-anchor="end">0</text>
<line x1="813.60" y1="954.80" x2="813.60" y2="968.80" stroke="#000" stroke-width="1.75"/>
<text transform="translate(813.60 1002.50) scale(0.935 1)" font-size="29.2" text-anchor="middle">0</text>
<line x1="888.48" y1="954.80" x2="888.48" y2="968.80" stroke="#000" stroke-width="1.75"/>
<text transform="translate(888.48 1002.50) scale(0.935 1)" font-size="29.2" text-anchor="middle">20</text>
<line x1="963.36" y1="954.80" x2="963.36" y2="968.80" stroke="#000" stroke-width="1.75"/>
<text transform="translate(963.36 1002.50) scale(0.935 1)" font-size="29.2" text-anchor="middle">40</text>
<line x1="1038.24" y1="954.80" x2="1038.24" y2="968.80" stroke="#000" stroke-width="1.75"/>
<text transform="translate(1038.24 1002.50) scale(0.935 1)" font-size="29.2" text-anchor="middle">60</text>
<line x1="1113.12" y1="954.80" x2="1113.12" y2="968.80" stroke="#000" stroke-width="1.75"/>
<text transform="translate(1113.12 1002.50) scale(0.935 1)" font-size="29.2" text-anchor="middle">80</text>
<line x1="1188.00" y1="954.80" x2="1188.00" y2="968.80" stroke="#000" stroke-width="1.75"/>
<text transform="translate(1188.00 1002.50) scale(0.935 1)" font-size="29.2" text-anchor="middle">100</text>
<circle cx="818.1" cy="954.2" r="7.5" fill="#ff0000"/>
<circle cx="821.1" cy="946.8" r="7.5" fill="#ff0000"/>
<circle cx="824.1" cy="939.3" r="7.5" fill="#ff0000"/>
<circle cx="827.7" cy="931.9" r="7.5" fill="#ff0000"/>
<circle cx="831.5" cy="924.4" r="7.5" fill="#ff0000"/>
<circle cx="836.0" cy="916.9" r="7.5" fill="#ff0000"/>
<circle cx="840.5" cy="909.5" r="7.5" fill="#ff0000"/>
<circle cx="846.5" cy="902.0" r="7.5" fill="#ff0000"/>
<circle cx="853.9" cy="891.6" r="7.5" fill="#ff0000"/>
<circle cx="864.4" cy="881.1" r="7.5" fill="#ff0000"/>
<circle cx="877.2" cy="867.7" r="7.5" fill="#ff0000"/>
<circle cx="894.2" cy="852.2" r="7.5" fill="#ff0000"/>
<circle cx="915.7" cy="834.3" r="7.5" fill="#ff0000"/>
<circle cx="944.3" cy="814.0" r="7.5" fill="#ff0000"/>
<circle cx="980.7" cy="791.1" r="7.5" fill="#ff0000"/>
<circle cx="1027.5" cy="764.8" r="7.5" fill="#ff0000"/>
<circle cx="1085.7" cy="735.9" r="7.5" fill="#ff0000"/>
<path d="M1057.4 738.2 L1056.0 739.1 L1054.6 740.0 L1053.2 740.9 L1051.8 741.8 L1050.4 742.6 L1049.0 743.5 L1047.6 744.4 L1046.2 745.3 L1044.8 746.2 L1043.5 747.1 L1042.1 748.0 L1040.7 748.9 L1039.3 749.8 L1037.9 750.7 L1036.5 751.5 L1035.2 752.4 L1033.8 753.3 L1032.4 754.2 L1031.0 755.1 L1029.6 756.0 L1028.3 756.9 L1026.9 757.9 L1025.5 758.8 L1024.1 759.7 L1022.8 760.6 L1021.4 761.5 L1020.0 762.4 L1018.6 763.3 L1017.3 764.2 L1015.9 765.2 L1014.5 766.1 L1013.2 767.0 L1011.8 767.9 L1010.4 768.8 L1009.1 769.7 L1007.7 770.7 L1006.3 771.6 L1004.9 772.5 L1003.6 773.4 L1002.2 774.3 L1000.8 775.2 L999.5 776.2 L998.1 777.1 L996.7 778.0 L995.3 778.9 L994.0 779.8 L992.6 780.7 L991.2 781.6 L989.8 782.5 L988.5 783.4 L987.1 784.4 L985.7 785.3 L984.4 786.2 L983.0 787.1 L981.6 788.0 L980.3 788.9 L978.9 789.9 L977.5 790.8 L976.2 791.7 L974.8 792.6 L973.4 793.5 L972.1 794.5 L970.7 795.4 L969.3 796.3 L968.0 797.2 L966.6 798.2 L965.2 799.1 L963.9 800.0 L962.5 801.0 L961.2 801.9 L959.8 802.8 L958.4 803.8 L957.1 804.7 L955.7 805.7 L954.4 806.6 L953.1 807.6 L951.7 808.5 L950.4 809.5 L949.0 810.4 L947.7 811.4 L946.4 812.4 L945.0 813.4 L943.7 814.3 L942.4 815.3 L941.1 816.3 L939.7 817.3 L938.4 818.3 L937.1 819.3 L935.8 820.3 L934.5 821.3 L933.2 822.3 L931.9 823.3 L930.6 824.3 L929.3 825.3 L928.0 826.3 L926.7 827.4 L925.5 828.4 L924.2 829.5 L922.9 830.6 L921.7 831.6 L920.4 832.7 L919.2 833.8 L917.9 834.9 L916.7 835.9 L915.5 837.0 L914.2 838.1 L913.0 839.2 L911.7 840.3 L910.5 841.4 L909.2 842.4 L908.0 843.5 L906.7 844.6 L905.5 845.7 L904.2 846.7 L903.0 847.8 L901.7 848.9 L900.5 849.9 L899.2 851.0 L898.0 852.1 L896.7 853.1 L895.4 854.2 L894.2 855.3 L892.9 856.3 L891.7 857.4 L890.4 858.5 L889.2 859.6 L888.0 860.7 L886.7 861.8 L885.5 862.8 L884.3 863.9 L883.0 865.0 L881.8 866.1 L880.6 867.2 L879.3 868.3 L878.1 869.4 L876.9 870.5 L875.6 871.6 L874.4 872.8 L873.2 873.9 L872.0 875.0 L870.9 876.2 L869.7 877.3 L868.5 878.5 L867.4 879.6 L866.2 880.8 L865.1 882.0 L864.0 883.2 L862.9 884.5 L861.7 885.7 L860.6 886.9 L859.5 888.1 L858.5 889.4 L857.4 890.6 L856.3 891.9 L855.2 893.1 L854.1 894.3 L853.0 895.6 L851.9 896.8 L850.8 898.1 L849.7 899.3 L848.6 900.5 L847.5 901.8 L846.4 903.0 L845.3 904.3 L844.3 905.5 L843.2 906.8 L842.2 908.1 L841.2 909.4 L840.2 910.7 L839.3 912.0 L838.4 913.4 L837.5 914.8 L836.7 916.2 L835.9 917.6 L835.0 919.0 L834.3 920.5 L833.5 921.9 L832.7 923.4 L832.0 924.9 L831.2 926.3 L830.5 927.8 L829.7 929.3 L829.0 930.8 L828.3 932.3 L827.6 933.8 L826.9 935.3 L826.1 936.8 L825.4 938.2 L824.7 939.7 L824.0 941.2 L823.4 942.7 L822.7 944.2 L822.0 945.7 L821.3 947.2 L820.7 948.8 L820.0 950.3 L819.4 951.8 L818.7 953.3 L818.1 954.8" fill="none" stroke="#000" stroke-width="4.6" stroke-linejoin="round" stroke-dasharray="11 9.5"/>
<text x="840.30" y="681.00" font-size="39.5" text-anchor="start">HPRS</text>
<text x="667.50" y="623.10" font-size="84" text-anchor="start">E</text>
<text transform="translate(709.00 793.10) rotate(-90) scale(0.965 1)" font-size="40" text-anchor="middle">-Z" (kOhm)</text>
<text transform="translate(1000.00 1058.60) scale(0.945 1)" font-size="41.5" text-anchor="middle">Z' (kOhm)</text>
<circle cx="952.4" cy="892.9" r="10.6" fill="#ff0000"/>
<text transform="translate(994.80 901.20) scale(0.95 1)" font-size="33" text-anchor="start">experiment</text>
<text transform="translate(994.80 937.40) scale(0.95 1)" font-size="33" text-anchor="start">fitting</text>
<line x1="921.00" y1="928.90" x2="976.20" y2="928.90" stroke="#000" stroke-width="4.6" stroke-dasharray="11 11.5"/>
</g>
<g id="panel-F">
<rect x="1474.50" y="630.00" width="374.50" height="324.20" fill="none" stroke="#000" stroke-width="1.75"/>
<line x1="1460.50" y1="630.00" x2="1476.00" y2="630.00" stroke="#000" stroke-width="1.75"/>
<text transform="translate(1453.00 639.20) scale(0.935 1)" font-size="29.2" text-anchor="end">250</text>
<line x1="1460.50" y1="694.84" x2="1476.00" y2="694.84" stroke="#000" stroke-width="1.75"/>
<text transform="translate(1453.00 704.04) scale(0.935 1)" font-size="29.2" text-anchor="end">200</text>
<line x1="1460.50" y1="759.68" x2="1476.00" y2="759.68" stroke="#000" stroke-width="1.75"/>
<text transform="translate(1453.00 768.88) scale(0.935 1)" font-size="29.2" text-anchor="end">150</text>
<line x1="1460.50" y1="824.52" x2="1476.00" y2="824.52" stroke="#000" stroke-width="1.75"/>
<text transform="translate(1453.00 833.72) scale(0.935 1)" font-size="29.2" text-anchor="end">100</text>
<line x1="1460.50" y1="889.36" x2="1476.00" y2="889.36" stroke="#000" stroke-width="1.75"/>
<text transform="translate(1453.00 898.56) scale(0.935 1)" font-size="29.2" text-anchor="end">50</text>
<line x1="1460.50" y1="954.20" x2="1476.00" y2="954.20" stroke="#000" stroke-width="1.75"/>
<text transform="translate(1453.00 963.40) scale(0.935 1)" font-size="29.2" text-anchor="end">0</text>
<line x1="1474.50" y1="954.20" x2="1474.50" y2="968.20" stroke="#000" stroke-width="1.75"/>
<text transform="translate(1474.50 1002.50) scale(0.935 1)" font-size="29.2" text-anchor="middle">0</text>
<line x1="1549.40" y1="954.20" x2="1549.40" y2="968.20" stroke="#000" stroke-width="1.75"/>
<text transform="translate(1549.40 1002.50) scale(0.935 1)" font-size="29.2" text-anchor="middle">20</text>
<line x1="1624.30" y1="954.20" x2="1624.30" y2="968.20" stroke="#000" stroke-width="1.75"/>
<text transform="translate(1624.30 1002.50) scale(0.935 1)" font-size="29.2" text-anchor="middle">40</text>
<line x1="1699.20" y1="954.20" x2="1699.20" y2="968.20" stroke="#000" stroke-width="1.75"/>
<text transform="translate(1699.20 1002.50) scale(0.935 1)" font-size="29.2" text-anchor="middle">60</text>
<line x1="1774.10" y1="954.20" x2="1774.10" y2="968.20" stroke="#000" stroke-width="1.75"/>
<text transform="translate(1774.10 1002.50) scale(0.935 1)" font-size="29.2" text-anchor="middle">80</text>
<line x1="1849.00" y1="954.20" x2="1849.00" y2="968.20" stroke="#000" stroke-width="1.75"/>
<text transform="translate(1849.00 1002.50) scale(0.935 1)" font-size="29.2" text-anchor="middle">100</text>
<circle cx="1476.6" cy="954.2" r="7.5" fill="#00aaff"/>
<circle cx="1479.6" cy="945.3" r="7.5" fill="#00aaff"/>
<circle cx="1482.6" cy="937.8" r="7.5" fill="#00aaff"/>
<circle cx="1485.6" cy="930.4" r="7.5" fill="#00aaff"/>
<circle cx="1489.5" cy="922.9" r="7.5" fill="#00aaff"/>
<circle cx="1493.0" cy="915.5" r="7.5" fill="#00aaff"/>
<circle cx="1496.9" cy="908.0" r="7.5" fill="#00aaff"/>
<circle cx="1502.0" cy="899.6" r="7.5" fill="#00aaff"/>
<circle cx="1507.9" cy="889.5" r="7.5" fill="#00aaff"/>
<circle cx="1516.0" cy="877.6" r="7.5" fill="#00aaff"/>
<circle cx="1526.7" cy="863.2" r="7.5" fill="#00aaff"/>
<circle cx="1540.8" cy="846.8" r="7.5" fill="#00aaff"/>
<circle cx="1558.7" cy="827.4" r="7.5" fill="#00aaff"/>
<circle cx="1581.6" cy="804.2" r="7.5" fill="#00aaff"/>
<circle cx="1610.9" cy="778.2" r="7.5" fill="#00aaff"/>
<circle cx="1648.2" cy="747.5" r="7.5" fill="#00aaff"/>
<circle cx="1699.5" cy="712.6" r="7.5" fill="#00aaff"/>
<circle cx="1764.5" cy="672.3" r="7.5" fill="#00aaff"/>
<path d="M1761.5 675.3 L1759.8 676.4 L1758.1 677.5 L1756.4 678.7 L1754.7 679.8 L1753.1 680.9 L1751.4 682.1 L1749.7 683.2 L1748.1 684.4 L1746.4 685.6 L1744.8 686.8 L1743.1 688.0 L1741.5 689.2 L1739.8 690.4 L1738.2 691.6 L1736.5 692.8 L1734.9 694.0 L1733.3 695.2 L1731.6 696.4 L1730.0 697.6 L1728.3 698.8 L1726.7 700.0 L1725.0 701.2 L1723.4 702.3 L1721.7 703.5 L1720.1 704.7 L1718.4 705.9 L1716.8 707.1 L1715.1 708.3 L1713.5 709.5 L1711.9 710.7 L1710.2 711.9 L1708.6 713.1 L1706.9 714.2 L1705.3 715.4 L1703.6 716.6 L1702.0 717.8 L1700.3 719.0 L1698.7 720.2 L1697.0 721.4 L1695.4 722.6 L1693.7 723.8 L1692.1 724.9 L1690.4 726.1 L1688.7 727.3 L1687.1 728.5 L1685.4 729.7 L1683.8 730.9 L1682.1 732.0 L1680.5 733.2 L1678.8 734.4 L1677.2 735.6 L1675.6 736.8 L1673.9 738.0 L1672.3 739.2 L1670.7 740.5 L1669.0 741.7 L1667.4 742.9 L1665.8 744.1 L1664.2 745.4 L1662.6 746.6 L1661.0 747.9 L1659.4 749.1 L1657.8 750.4 L1656.2 751.6 L1654.6 752.9 L1653.0 754.1 L1651.4 755.4 L1649.8 756.6 L1648.2 757.9 L1646.6 759.2 L1645.0 760.5 L1643.4 761.7 L1641.8 763.0 L1640.3 764.3 L1638.7 765.6 L1637.1 766.9 L1635.6 768.2 L1634.0 769.5 L1632.4 770.8 L1630.9 772.1 L1629.3 773.4 L1627.8 774.7 L1626.2 776.0 L1624.7 777.3 L1623.1 778.6 L1621.6 780.0 L1620.0 781.3 L1618.5 782.6 L1616.9 783.9 L1615.4 785.2 L1613.8 786.5 L1612.3 787.9 L1610.7 789.2 L1609.2 790.5 L1607.6 791.8 L1606.1 793.2 L1604.6 794.5 L1603.0 795.8 L1601.5 797.2 L1600.0 798.5 L1598.5 799.9 L1597.0 801.3 L1595.5 802.6 L1594.0 804.0 L1592.5 805.4 L1591.1 806.8 L1589.6 808.2 L1588.1 809.7 L1586.7 811.1 L1585.3 812.5 L1583.8 814.0 L1582.4 815.4 L1581.0 816.9 L1579.6 818.3 L1578.1 819.8 L1576.7 821.2 L1575.3 822.7 L1573.9 824.2 L1572.4 825.6 L1571.0 827.0 L1569.6 828.5 L1568.1 829.9 L1566.7 831.3 L1565.2 832.8 L1563.8 834.2 L1562.3 835.6 L1560.9 837.1 L1559.5 838.5 L1558.0 839.9 L1556.6 841.4 L1555.1 842.8 L1553.7 844.2 L1552.3 845.7 L1550.8 847.1 L1549.4 848.6 L1548.0 850.0 L1546.6 851.5 L1545.2 852.9 L1543.7 854.4 L1542.3 855.9 L1540.9 857.3 L1539.5 858.8 L1538.1 860.3 L1536.7 861.8 L1535.3 863.2 L1533.9 864.7 L1532.5 866.2 L1531.2 867.7 L1529.8 869.2 L1528.4 870.7 L1527.1 872.3 L1525.8 873.8 L1524.4 875.3 L1523.1 876.9 L1521.8 878.4 L1520.5 880.0 L1519.2 881.6 L1518.0 883.2 L1516.7 884.8 L1515.4 886.3 L1514.2 887.9 L1512.9 889.6 L1511.7 891.2 L1510.4 892.8 L1509.2 894.4 L1508.0 896.0 L1506.8 897.6 L1505.5 899.3 L1504.3 900.9 L1503.0 902.5 L1501.8 904.1 L1500.6 905.8 L1499.4 907.4 L1498.2 909.1 L1497.0 910.7 L1495.9 912.4 L1494.8 914.1 L1493.7 915.8 L1492.7 917.5 L1491.7 919.3 L1490.7 921.1 L1489.7 922.9 L1488.7 924.7 L1487.8 926.5 L1486.9 928.3 L1486.0 930.1 L1485.1 932.0 L1484.3 933.8 L1483.5 935.7 L1482.7 937.6 L1481.9 939.4 L1481.2 941.3 L1480.5 943.2 L1479.8 945.1 L1479.1 947.1 L1478.4 949.0 L1477.8 950.9 L1477.2 952.9 L1476.6 954.8" fill="none" stroke="#000" stroke-width="4.6" stroke-linejoin="round" stroke-dasharray="11 9.5"/>
<text x="1506.50" y="678.50" font-size="39" text-anchor="start">VP</text>
<text x="1334.50" y="622.20" font-size="84" text-anchor="start">F</text>
<text transform="translate(1369.00 792.50) rotate(-90) scale(0.965 1)" font-size="40" text-anchor="middle">-Z" (kOhm)</text>
<text transform="translate(1661.00 1057.60) scale(0.945 1)" font-size="41.5" text-anchor="middle">Z' (kOhm)</text>
<circle cx="1614.7" cy="891.6" r="10.6" fill="#00aaff"/>
<text transform="translate(1656.30 900.00) scale(0.95 1)" font-size="33" text-anchor="start">experiment</text>
<text transform="translate(1656.30 936.20) scale(0.95 1)" font-size="33" text-anchor="start">fitting</text>
<line x1="1582.50" y1="928.30" x2="1639.20" y2="928.30" stroke="#000" stroke-width="4.6" stroke-dasharray="11 11.5"/>
</g>
<g id="panel-G">
<line x1="346.12" y1="1625.04" x2="346.12" y2="1602.26" stroke="#f9a13f" stroke-width="5"/>
<line x1="336.62" y1="1625.04" x2="355.62" y2="1625.04" stroke="#f9a13f" stroke-width="5"/>
<line x1="336.62" y1="1602.26" x2="355.62" y2="1602.26" stroke="#f9a13f" stroke-width="5"/>
<circle cx="346.1" cy="1613.6" r="10.2" fill="#f9a13f"/>
<line x1="385.80" y1="1610.18" x2="385.80" y2="1579.47" stroke="#f9a13f" stroke-width="5"/>
<line x1="376.30" y1="1610.18" x2="395.30" y2="1610.18" stroke="#f9a13f" stroke-width="5"/>
<line x1="376.30" y1="1579.47" x2="395.30" y2="1579.47" stroke="#f9a13f" stroke-width="5"/>
<circle cx="385.8" cy="1594.8" r="10.2" fill="#f9a13f"/>
<line x1="435.40" y1="1593.34" x2="435.40" y2="1532.43" stroke="#f9a13f" stroke-width="5"/>
<line x1="425.90" y1="1593.34" x2="444.90" y2="1593.34" stroke="#f9a13f" stroke-width="5"/>
<line x1="425.90" y1="1532.43" x2="444.90" y2="1532.43" stroke="#f9a13f" stroke-width="5"/>
<circle cx="435.4" cy="1570.6" r="10.2" fill="#f9a13f"/>
<line x1="485.00" y1="1584.43" x2="485.00" y2="1498.75" stroke="#f9a13f" stroke-width="5"/>
<line x1="475.50" y1="1584.43" x2="494.50" y2="1584.43" stroke="#f9a13f" stroke-width="5"/>
<line x1="475.50" y1="1498.75" x2="494.50" y2="1498.75" stroke="#f9a13f" stroke-width="5"/>
<circle cx="485.0" cy="1541.8" r="10.2" fill="#f9a13f"/>
<line x1="584.20" y1="1557.19" x2="584.20" y2="1472.01" stroke="#f9a13f" stroke-width="5"/>
<line x1="574.70" y1="1557.19" x2="593.70" y2="1557.19" stroke="#f9a13f" stroke-width="5"/>
<line x1="574.70" y1="1472.01" x2="593.70" y2="1472.01" stroke="#f9a13f" stroke-width="5"/>
<circle cx="584.2" cy="1511.6" r="10.2" fill="#f9a13f"/>
<line x1="683.40" y1="1536.39" x2="683.40" y2="1422.48" stroke="#f9a13f" stroke-width="5"/>
<line x1="673.90" y1="1536.39" x2="692.90" y2="1536.39" stroke="#f9a13f" stroke-width="5"/>
<line x1="673.90" y1="1422.48" x2="692.90" y2="1422.48" stroke="#f9a13f" stroke-width="5"/>
<circle cx="683.4" cy="1479.4" r="10.2" fill="#f9a13f"/>
<line x1="782.60" y1="1514.60" x2="782.60" y2="1391.78" stroke="#f9a13f" stroke-width="5"/>
<line x1="773.10" y1="1514.60" x2="792.10" y2="1514.60" stroke="#f9a13f" stroke-width="5"/>
<line x1="773.10" y1="1391.78" x2="792.10" y2="1391.78" stroke="#f9a13f" stroke-width="5"/>
<circle cx="782.6" cy="1453.2" r="10.2" fill="#f9a13f"/>
<line x1="286.60" y1="1639.40" x2="782.60" y2="1437.83" stroke="#f9a13f" stroke-width="5.6"/>
<line x1="346.12" y1="1606.71" x2="346.12" y2="1574.03" stroke="#ef3a3f" stroke-width="5"/>
<line x1="336.62" y1="1606.71" x2="355.62" y2="1606.71" stroke="#ef3a3f" stroke-width="5"/>
<line x1="336.62" y1="1574.03" x2="355.62" y2="1574.03" stroke="#ef3a3f" stroke-width="5"/>
<circle cx="346.1" cy="1590.4" r="10.2" fill="#ef3a3f"/>
<line x1="385.80" y1="1585.42" x2="385.80" y2="1546.79" stroke="#ef3a3f" stroke-width="5"/>
<line x1="376.30" y1="1585.42" x2="395.30" y2="1585.42" stroke="#ef3a3f" stroke-width="5"/>
<line x1="376.30" y1="1546.79" x2="395.30" y2="1546.79" stroke="#ef3a3f" stroke-width="5"/>
<circle cx="385.8" cy="1566.1" r="10.2" fill="#ef3a3f"/>
<line x1="435.40" y1="1567.09" x2="435.40" y2="1511.63" stroke="#ef3a3f" stroke-width="5"/>
<line x1="425.90" y1="1567.09" x2="444.90" y2="1567.09" stroke="#ef3a3f" stroke-width="5"/>
<line x1="425.90" y1="1511.63" x2="444.90" y2="1511.63" stroke="#ef3a3f" stroke-width="5"/>
<circle cx="435.4" cy="1540.4" r="10.2" fill="#ef3a3f"/>
<line x1="485.00" y1="1548.77" x2="485.00" y2="1485.38" stroke="#ef3a3f" stroke-width="5"/>
<line x1="475.50" y1="1548.77" x2="494.50" y2="1548.77" stroke="#ef3a3f" stroke-width="5"/>
<line x1="475.50" y1="1485.38" x2="494.50" y2="1485.38" stroke="#ef3a3f" stroke-width="5"/>
<circle cx="485.0" cy="1519.5" r="10.2" fill="#ef3a3f"/>
<line x1="584.20" y1="1512.12" x2="584.20" y2="1423.97" stroke="#ef3a3f" stroke-width="5"/>
<line x1="574.70" y1="1512.12" x2="593.70" y2="1512.12" stroke="#ef3a3f" stroke-width="5"/>
<line x1="574.70" y1="1423.97" x2="593.70" y2="1423.97" stroke="#ef3a3f" stroke-width="5"/>
<circle cx="584.2" cy="1467.1" r="10.2" fill="#ef3a3f"/>
<line x1="683.40" y1="1478.44" x2="683.40" y2="1369.49" stroke="#ef3a3f" stroke-width="5"/>
<line x1="673.90" y1="1478.44" x2="692.90" y2="1478.44" stroke="#ef3a3f" stroke-width="5"/>
<line x1="673.90" y1="1369.49" x2="692.90" y2="1369.49" stroke="#ef3a3f" stroke-width="5"/>
<circle cx="683.4" cy="1424.0" r="10.2" fill="#ef3a3f"/>
<line x1="782.60" y1="1449.72" x2="782.60" y2="1318.97" stroke="#ef3a3f" stroke-width="5"/>
<line x1="773.10" y1="1449.72" x2="792.10" y2="1449.72" stroke="#ef3a3f" stroke-width="5"/>
<line x1="773.10" y1="1318.97" x2="792.10" y2="1318.97" stroke="#ef3a3f" stroke-width="5"/>
<circle cx="782.6" cy="1385.8" r="10.2" fill="#ef3a3f"/>
<line x1="286.60" y1="1639.40" x2="782.60" y2="1366.02" stroke="#ef3a3f" stroke-width="5.6"/>
<line x1="346.12" y1="1604.73" x2="346.12" y2="1587.89" stroke="#5b9df5" stroke-width="5"/>
<line x1="336.62" y1="1604.73" x2="355.62" y2="1604.73" stroke="#5b9df5" stroke-width="5"/>
<line x1="336.62" y1="1587.89" x2="355.62" y2="1587.89" stroke="#5b9df5" stroke-width="5"/>
<circle cx="346.1" cy="1596.3" r="10.2" fill="#5b9df5"/>
<line x1="385.80" y1="1584.92" x2="385.80" y2="1565.11" stroke="#5b9df5" stroke-width="5"/>
<line x1="376.30" y1="1584.92" x2="395.30" y2="1584.92" stroke="#5b9df5" stroke-width="5"/>
<line x1="376.30" y1="1565.11" x2="395.30" y2="1565.11" stroke="#5b9df5" stroke-width="5"/>
<circle cx="385.8" cy="1575.0" r="10.2" fill="#5b9df5"/>
<line x1="435.40" y1="1563.13" x2="435.40" y2="1538.37" stroke="#5b9df5" stroke-width="5"/>
<line x1="425.90" y1="1563.13" x2="444.90" y2="1563.13" stroke="#5b9df5" stroke-width="5"/>
<line x1="425.90" y1="1538.37" x2="444.90" y2="1538.37" stroke="#5b9df5" stroke-width="5"/>
<circle cx="435.4" cy="1550.8" r="10.2" fill="#5b9df5"/>
<line x1="485.00" y1="1545.30" x2="485.00" y2="1491.82" stroke="#5b9df5" stroke-width="5"/>
<line x1="475.50" y1="1545.30" x2="494.50" y2="1545.30" stroke="#5b9df5" stroke-width="5"/>
<line x1="475.50" y1="1491.82" x2="494.50" y2="1491.82" stroke="#5b9df5" stroke-width="5"/>
<circle cx="485.0" cy="1518.6" r="10.2" fill="#5b9df5"/>
<line x1="584.20" y1="1503.70" x2="584.20" y2="1458.63" stroke="#5b9df5" stroke-width="5"/>
<line x1="574.70" y1="1503.70" x2="593.70" y2="1503.70" stroke="#5b9df5" stroke-width="5"/>
<line x1="574.70" y1="1458.63" x2="593.70" y2="1458.63" stroke="#5b9df5" stroke-width="5"/>
<circle cx="584.2" cy="1480.4" r="10.2" fill="#5b9df5"/>
<line x1="683.40" y1="1465.57" x2="683.40" y2="1389.30" stroke="#5b9df5" stroke-width="5"/>
<line x1="673.90" y1="1465.57" x2="692.90" y2="1465.57" stroke="#5b9df5" stroke-width="5"/>
<line x1="673.90" y1="1389.30" x2="692.90" y2="1389.30" stroke="#5b9df5" stroke-width="5"/>
<circle cx="683.4" cy="1426.4" r="10.2" fill="#5b9df5"/>
<line x1="782.60" y1="1426.44" x2="782.60" y2="1362.56" stroke="#5b9df5" stroke-width="5"/>
<line x1="773.10" y1="1426.44" x2="792.10" y2="1426.44" stroke="#5b9df5" stroke-width="5"/>
<line x1="773.10" y1="1362.56" x2="792.10" y2="1362.56" stroke="#5b9df5" stroke-width="5"/>
<circle cx="782.6" cy="1394.7" r="10.2" fill="#5b9df5"/>
<line x1="286.60" y1="1639.40" x2="782.60" y2="1374.44" stroke="#5b9df5" stroke-width="5.6"/>
<line x1="286.60" y1="1241.40" x2="286.60" y2="1641.40" stroke="#000" stroke-width="4"/>
<line x1="284.60" y1="1639.40" x2="883.80" y2="1639.40" stroke="#000" stroke-width="4.2"/>
<line x1="275.30" y1="1639.40" x2="286.60" y2="1639.40" stroke="#000" stroke-width="3.6"/>
<text x="270.40" y="1650.60" font-size="32" text-anchor="end">0</text>
<line x1="275.30" y1="1540.35" x2="286.60" y2="1540.35" stroke="#000" stroke-width="3.6"/>
<text x="270.40" y="1551.55" font-size="32" text-anchor="end">2</text>
<line x1="275.30" y1="1441.30" x2="286.60" y2="1441.30" stroke="#000" stroke-width="3.6"/>
<text x="270.40" y="1452.50" font-size="32" text-anchor="end">4</text>
<line x1="275.30" y1="1342.25" x2="286.60" y2="1342.25" stroke="#000" stroke-width="3.6"/>
<text x="270.40" y="1353.45" font-size="32" text-anchor="end">6</text>
<line x1="275.30" y1="1243.20" x2="286.60" y2="1243.20" stroke="#000" stroke-width="3.6"/>
<text x="270.40" y="1254.40" font-size="32" text-anchor="end">8</text>
<line x1="286.60" y1="1639.40" x2="286.60" y2="1650.00" stroke="#000" stroke-width="3.6"/>
<text x="285.80" y="1686.00" font-size="32" text-anchor="middle">0.0</text>
<line x1="485.00" y1="1639.40" x2="485.00" y2="1650.00" stroke="#000" stroke-width="3.6"/>
<text x="484.20" y="1686.00" font-size="32" text-anchor="middle">0.2</text>
<line x1="683.40" y1="1639.40" x2="683.40" y2="1650.00" stroke="#000" stroke-width="3.6"/>
<text x="682.60" y="1686.00" font-size="32" text-anchor="middle">0.4</text>
<line x1="881.80" y1="1639.40" x2="881.80" y2="1650.00" stroke="#000" stroke-width="3.6"/>
<text x="881.00" y="1686.00" font-size="32" text-anchor="middle">0.6</text>
<line x1="321.90" y1="1289.60" x2="364.00" y2="1289.60" stroke="#f9a13f" stroke-width="5.5"/>
<circle cx="342.8" cy="1289.6" r="10.0" fill="#f9a13f"/>
<text x="386.30" y="1300.60" font-size="32" text-anchor="start">HPSS</text>
<line x1="321.90" y1="1335.20" x2="364.00" y2="1335.20" stroke="#ef3a3f" stroke-width="5.5"/>
<circle cx="342.8" cy="1335.2" r="10.0" fill="#ef3a3f"/>
<text x="386.30" y="1346.20" font-size="32" text-anchor="start">HPRS</text>
<line x1="321.90" y1="1381.00" x2="364.00" y2="1381.00" stroke="#5b9df5" stroke-width="5.5"/>
<circle cx="342.8" cy="1381.0" r="10.0" fill="#5b9df5"/>
<text x="386.30" y="1392.00" font-size="32" text-anchor="start">VP</text>
<text x="114.60" y="1220.40" font-size="102" text-anchor="start">G</text>
<text transform="translate(220.90 1438.80) rotate(-90) scale(0.974 1)" font-size="50" text-anchor="middle">i<tspan font-size="37" dy="7">a</tspan><tspan dy="-7"> - i</tspan><tspan font-size="37" dy="7">c</tspan><tspan dy="-7"> at 0.5 V (</tspan><tspan font-family='"Liberation Serif", "DejaVu Serif", serif' font-weight="normal" font-size="56">μ</tspan>A)</text>
<text x="585.00" y="1750.00" font-size="50" text-anchor="middle">2V (V s<tspan font-size="34" dy="-21">-1</tspan><tspan dy="21">)</tspan></text>
</g>
<g id="panel-H">
<rect x="1266.3" y="1492.2" width="55.3" height="145.8" fill="#000"/>
<line x1="1293.95" y1="1446.40" x2="1293.95" y2="1493.20" stroke="#000" stroke-width="4"/>
<line x1="1281.75" y1="1446.40" x2="1306.15" y2="1446.40" stroke="#000" stroke-width="4"/>
<rect x="1340.4" y="1482.5" width="55.3" height="155.5" fill="#a09fa4"/>
<line x1="1368.05" y1="1436.60" x2="1368.05" y2="1483.50" stroke="#a09fa4" stroke-width="4"/>
<line x1="1355.85" y1="1436.60" x2="1380.25" y2="1436.60" stroke="#a09fa4" stroke-width="4"/>
<rect x="1465.2" y="1445.4" width="54.0" height="192.6" fill="#000"/>
<line x1="1492.20" y1="1400.70" x2="1492.20" y2="1446.40" stroke="#000" stroke-width="4"/>
<line x1="1480.00" y1="1400.70" x2="1504.40" y2="1400.70" stroke="#000" stroke-width="4"/>
<rect x="1539.2" y="1465.6" width="55.1" height="172.4" fill="#a09fa4"/>
<line x1="1566.75" y1="1450.10" x2="1566.75" y2="1466.60" stroke="#a09fa4" stroke-width="4"/>
<line x1="1554.55" y1="1450.10" x2="1578.95" y2="1450.10" stroke="#a09fa4" stroke-width="4"/>
<rect x="1662.2" y="1445.4" width="55.3" height="192.6" fill="#000"/>
<line x1="1689.85" y1="1420.90" x2="1689.85" y2="1446.40" stroke="#000" stroke-width="4"/>
<line x1="1677.65" y1="1420.90" x2="1702.05" y2="1420.90" stroke="#000" stroke-width="4"/>
<rect x="1737.9" y="1415.3" width="55.1" height="222.7" fill="#a09fa4"/>
<line x1="1765.45" y1="1380.40" x2="1765.45" y2="1416.30" stroke="#a09fa4" stroke-width="4"/>
<line x1="1753.25" y1="1380.40" x2="1777.65" y2="1380.40" stroke="#a09fa4" stroke-width="4"/>
<line x1="1231.20" y1="1240.50" x2="1231.20" y2="1640.00" stroke="#000" stroke-width="3.8"/>
<line x1="1219.20" y1="1638.00" x2="1828.70" y2="1638.00" stroke="#000" stroke-width="4.2"/>
<text x="1214.50" y="1651.60" font-size="38.5" text-anchor="end">0</text>
<line x1="1220.00" y1="1558.86" x2="1231.20" y2="1558.86" stroke="#000" stroke-width="3.6"/>
<text x="1214.50" y="1572.46" font-size="38.5" text-anchor="end">5</text>
<line x1="1220.00" y1="1479.72" x2="1231.20" y2="1479.72" stroke="#000" stroke-width="3.6"/>
<text x="1214.50" y="1493.32" font-size="38.5" text-anchor="end">10</text>
<line x1="1220.00" y1="1400.58" x2="1231.20" y2="1400.58" stroke="#000" stroke-width="3.6"/>
<text x="1214.50" y="1414.18" font-size="38.5" text-anchor="end">15</text>
<line x1="1220.00" y1="1321.44" x2="1231.20" y2="1321.44" stroke="#000" stroke-width="3.6"/>
<text x="1214.50" y="1335.04" font-size="38.5" text-anchor="end">20</text>
<line x1="1220.00" y1="1242.30" x2="1231.20" y2="1242.30" stroke="#000" stroke-width="3.6"/>
<text x="1214.50" y="1255.90" font-size="38.5" text-anchor="end">25</text>
<line x1="1329.70" y1="1638.00" x2="1329.70" y2="1648.80" stroke="#000" stroke-width="3.6"/>
<text x="1329.70" y="1688.60" font-size="37.8" text-anchor="middle">HPSS</text>
<line x1="1528.40" y1="1638.00" x2="1528.40" y2="1648.80" stroke="#000" stroke-width="3.6"/>
<text x="1528.40" y="1688.60" font-size="37.8" text-anchor="middle">HPRS</text>
<line x1="1727.50" y1="1638.00" x2="1727.50" y2="1648.80" stroke="#000" stroke-width="3.6"/>
<text x="1727.50" y="1688.60" font-size="37.8" text-anchor="middle">VP</text>
<rect x="1272.5" y="1246.8" width="49.1" height="27.8" fill="#000"/>
<rect x="1272.5" y="1293.2" width="49.1" height="26.4" fill="#a09fa4"/>
<text x="1341.50" y="1270.80" font-size="32" text-anchor="start">CV</text>
<text x="1341.50" y="1316.50" font-size="32" text-anchor="start">EIS</text>
<text x="998.00" y="1216.20" font-size="100" text-anchor="start">H</text>
<text transform="translate(1138.70 1435.00) rotate(-90) scale(0.982 1)" font-size="50" text-anchor="middle">Capacitance (<tspan font-family='"Liberation Serif", "DejaVu Serif", serif' font-weight="normal" font-size="56">μ</tspan>F cm<tspan font-size="36" dy="-25">-2</tspan><tspan dy="25">)</tspan></text>
<text x="1530.50" y="1759.50" font-size="49.2" text-anchor="middle">Electrode type</text>
</g>
</svg>
</body>
</html>
